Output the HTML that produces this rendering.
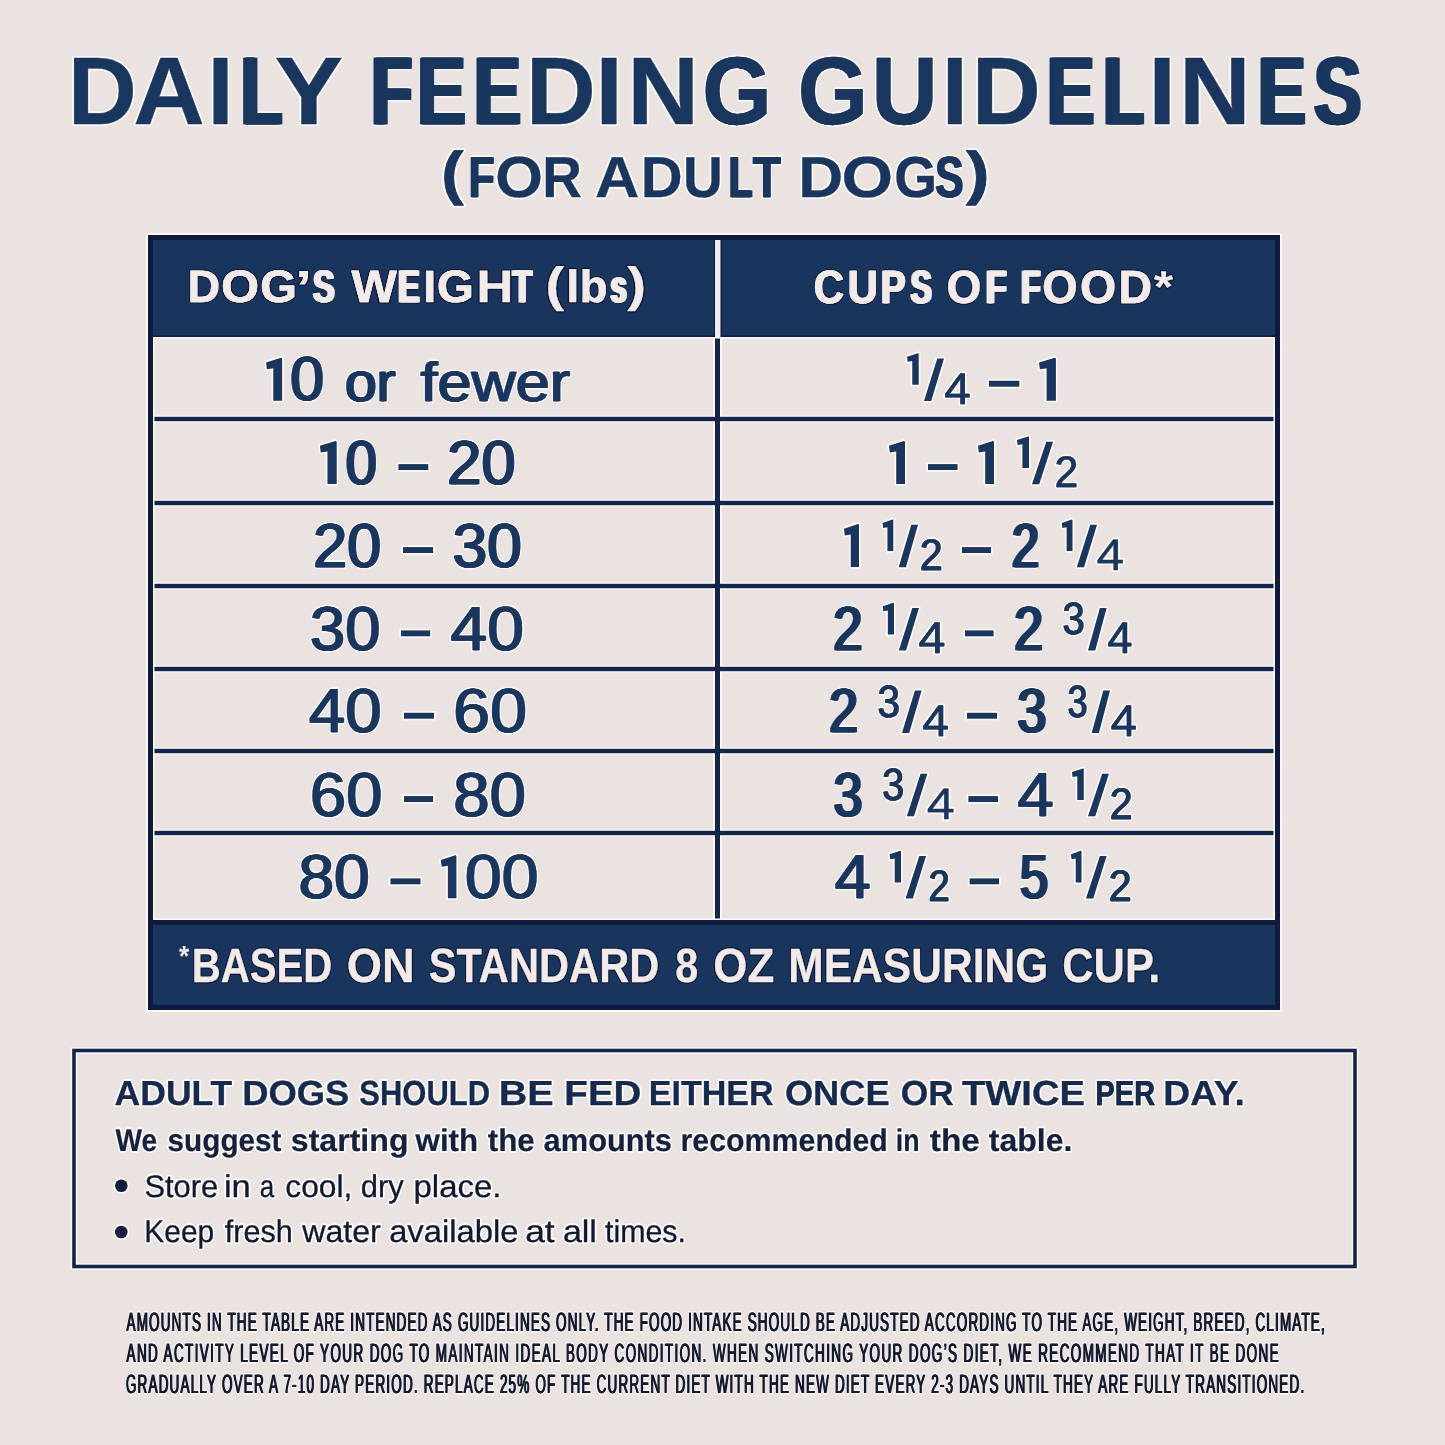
<!DOCTYPE html>
<html><head><meta charset="utf-8"><style>
html,body{margin:0;padding:0;background:#ebe3df;}
body{width:1445px;height:1445px;overflow:hidden;}
svg{display:block;font-family:"Liberation Sans",sans-serif;text-rendering:geometricPrecision;will-change:transform;}
</style></head><body>
<svg width="1445" height="1445" viewBox="0 0 1445 1445">
<rect width="1445" height="1445" fill="#ebe3df"/>
<rect x="146" y="233" width="1136" height="779" fill="#fbf9f8"/>
<rect x="148" y="235" width="1132" height="775" fill="#0f1a40"/>
<rect x="153" y="240" width="1122" height="765" fill="#ebe3df"/>
<rect x="153" y="240" width="1122" height="96" fill="#18355e"/>
<rect x="153" y="335.5" width="1122" height="1.5" fill="#0f1a40"/>
<rect x="714" y="240" width="8" height="97" fill="#0f1a40"/>
<rect x="715" y="240" width="5.5" height="97" fill="#efebea"/>
<rect x="153" y="415.5" width="1122" height="7" fill="#fbf9f8"/>
<rect x="153" y="499.5" width="1122" height="7" fill="#fbf9f8"/>
<rect x="153" y="582.5" width="1122" height="7" fill="#fbf9f8"/>
<rect x="153" y="665.5" width="1122" height="7" fill="#fbf9f8"/>
<rect x="153" y="747.5" width="1122" height="7" fill="#fbf9f8"/>
<rect x="153" y="829.5" width="1122" height="7" fill="#fbf9f8"/>
<rect x="713" y="337" width="9" height="584" fill="#fbf9f8"/>
<rect x="153" y="416.8" width="1122" height="4.4" fill="#14254c"/>
<rect x="153" y="500.8" width="1122" height="4.4" fill="#14254c"/>
<rect x="153" y="583.8" width="1122" height="4.4" fill="#14254c"/>
<rect x="153" y="666.8" width="1122" height="4.4" fill="#14254c"/>
<rect x="153" y="748.8" width="1122" height="4.4" fill="#14254c"/>
<rect x="153" y="830.8" width="1122" height="4.4" fill="#14254c"/>
<rect x="715" y="337" width="5" height="584" fill="#14254c"/>
<rect x="153" y="337" width="1122" height="1.5" fill="#fbf9f8"/>
<rect x="153" y="337" width="1.5" height="584" fill="#fbf9f8"/>
<rect x="1273.5" y="337" width="1.5" height="584" fill="#fbf9f8"/>
<rect x="153" y="918.5" width="1122" height="1.5" fill="#fbf9f8"/>
<rect x="153" y="920" width="1122" height="5" fill="#0f1a40"/>
<rect x="153" y="925" width="1122" height="80" fill="#18355e"/>
<rect x="74" y="1050.5" width="1281" height="216" fill="none" stroke="#fbf9f8" stroke-width="6.5"/>
<rect x="74" y="1050.5" width="1281" height="216" fill="none" stroke="#14254c" stroke-width="3.6"/>
<circle cx="121.3" cy="1185.8" r="8" fill="#fbf9f8"/>
<circle cx="121.3" cy="1232" r="8" fill="#fbf9f8"/>
<circle cx="121.3" cy="1185.8" r="6.3" fill="#13213f"/>
<circle cx="121.3" cy="1232" r="6.3" fill="#13213f"/>
<g opacity="1">
<text transform="matrix(0.9960 0 0 1 67.72 123.80)" font-size="96.08" font-weight="bold" fill="#fbf9f8" stroke="#fbf9f8" stroke-width="3.90" stroke-linejoin="round" vector-effect="non-scaling-stroke">D</text>
<text transform="matrix(1.0311 0 0 1 133.35 123.80)" font-size="96.08" font-weight="bold" fill="#fbf9f8" stroke="#fbf9f8" stroke-width="3.90" stroke-linejoin="round" vector-effect="non-scaling-stroke">A</text>
<text transform="matrix(0.9722 0 0 1 207.56 123.80)" font-size="96.08" font-weight="bold" fill="#fbf9f8" stroke="#fbf9f8" stroke-width="3.90" stroke-linejoin="round" vector-effect="non-scaling-stroke">I</text>
<text transform="matrix(0.7022 0 0 1 240.81 123.80)" font-size="96.08" font-weight="bold" fill="#fbf9f8" stroke="#fbf9f8" stroke-width="3.90" stroke-linejoin="round" vector-effect="non-scaling-stroke">L</text>
<text transform="matrix(1.0724 0 0 1 274.49 123.80)" font-size="96.08" font-weight="bold" fill="#fbf9f8" stroke="#fbf9f8" stroke-width="3.90" stroke-linejoin="round" vector-effect="non-scaling-stroke">Y</text>
<text transform="matrix(0.6951 0 0 1 371.31 123.80)" font-size="96.08" font-weight="bold" fill="#fbf9f8" stroke="#fbf9f8" stroke-width="3.90" stroke-linejoin="round" vector-effect="non-scaling-stroke">F</text>
<text transform="matrix(0.7723 0 0 1 416.77 123.80)" font-size="96.08" font-weight="bold" fill="#fbf9f8" stroke="#fbf9f8" stroke-width="3.90" stroke-linejoin="round" vector-effect="non-scaling-stroke">E</text>
<text transform="matrix(0.7353 0 0 1 473.97 123.80)" font-size="96.08" font-weight="bold" fill="#fbf9f8" stroke="#fbf9f8" stroke-width="3.90" stroke-linejoin="round" vector-effect="non-scaling-stroke">E</text>
<text transform="matrix(1.0110 0 0 1 525.63 123.80)" font-size="96.08" font-weight="bold" fill="#fbf9f8" stroke="#fbf9f8" stroke-width="3.90" stroke-linejoin="round" vector-effect="non-scaling-stroke">D</text>
<text transform="matrix(1.0388 0 0 1 595.26 123.80)" font-size="96.08" font-weight="bold" fill="#fbf9f8" stroke="#fbf9f8" stroke-width="3.90" stroke-linejoin="round" vector-effect="non-scaling-stroke">I</text>
<text transform="matrix(1.0361 0 0 1 627.28 123.80)" font-size="96.08" font-weight="bold" fill="#fbf9f8" stroke="#fbf9f8" stroke-width="3.90" stroke-linejoin="round" vector-effect="non-scaling-stroke">N</text>
<text transform="matrix(0.9227 0 0 1 702.40 123.80)" font-size="96.08" font-weight="bold" fill="#fbf9f8" stroke="#fbf9f8" stroke-width="3.90" stroke-linejoin="round" vector-effect="non-scaling-stroke">G</text>
<text transform="matrix(0.9404 0 0 1 797.72 123.80)" font-size="96.08" font-weight="bold" fill="#fbf9f8" stroke="#fbf9f8" stroke-width="3.90" stroke-linejoin="round" vector-effect="non-scaling-stroke">G</text>
<text transform="matrix(0.9550 0 0 1 871.43 123.80)" font-size="96.08" font-weight="bold" fill="#fbf9f8" stroke="#fbf9f8" stroke-width="3.90" stroke-linejoin="round" vector-effect="non-scaling-stroke">U</text>
<text transform="matrix(0.9789 0 0 1 941.82 123.80)" font-size="96.08" font-weight="bold" fill="#fbf9f8" stroke="#fbf9f8" stroke-width="3.90" stroke-linejoin="round" vector-effect="non-scaling-stroke">I</text>
<text transform="matrix(0.9960 0 0 1 971.82 123.80)" font-size="96.08" font-weight="bold" fill="#fbf9f8" stroke="#fbf9f8" stroke-width="3.90" stroke-linejoin="round" vector-effect="non-scaling-stroke">D</text>
<text transform="matrix(0.7476 0 0 1 1046.80 123.80)" font-size="96.08" font-weight="bold" fill="#fbf9f8" stroke="#fbf9f8" stroke-width="3.90" stroke-linejoin="round" vector-effect="non-scaling-stroke">E</text>
<text transform="matrix(0.6856 0 0 1 1103.44 123.80)" font-size="96.08" font-weight="bold" fill="#fbf9f8" stroke="#fbf9f8" stroke-width="3.90" stroke-linejoin="round" vector-effect="non-scaling-stroke">L</text>
<text transform="matrix(1.0388 0 0 1 1148.16 123.80)" font-size="96.08" font-weight="bold" fill="#fbf9f8" stroke="#fbf9f8" stroke-width="3.90" stroke-linejoin="round" vector-effect="non-scaling-stroke">I</text>
<text transform="matrix(1.0344 0 0 1 1178.99 123.80)" font-size="96.08" font-weight="bold" fill="#fbf9f8" stroke="#fbf9f8" stroke-width="3.90" stroke-linejoin="round" vector-effect="non-scaling-stroke">N</text>
<text transform="matrix(0.7501 0 0 1 1257.87 123.80)" font-size="96.08" font-weight="bold" fill="#fbf9f8" stroke="#fbf9f8" stroke-width="3.90" stroke-linejoin="round" vector-effect="non-scaling-stroke">E</text>
<text transform="matrix(0.7417 0 0 1 1313.82 123.80)" font-size="96.08" font-weight="bold" fill="#fbf9f8" stroke="#fbf9f8" stroke-width="3.90" stroke-linejoin="round" vector-effect="non-scaling-stroke">S</text>
<text transform="matrix(1.1368 0 0 1 441.16 193.20)" font-size="58.96" font-weight="bold" fill="#fbf9f8" stroke="#fbf9f8" stroke-width="4.30" stroke-linejoin="round" vector-effect="non-scaling-stroke">(</text>
<text transform="matrix(0.7314 0 0 1 468.80 196.55)" font-size="57.85" font-weight="bold" fill="#fbf9f8" stroke="#fbf9f8" stroke-width="3.80" stroke-linejoin="round" vector-effect="non-scaling-stroke">F</text>
<text transform="matrix(1.0609 0 0 1 495.33 196.55)" font-size="57.85" font-weight="bold" fill="#fbf9f8" stroke="#fbf9f8" stroke-width="3.80" stroke-linejoin="round" vector-effect="non-scaling-stroke">O</text>
<text transform="matrix(0.9501 0 0 1 542.21 196.55)" font-size="57.85" font-weight="bold" fill="#fbf9f8" stroke="#fbf9f8" stroke-width="3.80" stroke-linejoin="round" vector-effect="non-scaling-stroke">R</text>
<text transform="matrix(1.0614 0 0 1 594.89 196.55)" font-size="57.85" font-weight="bold" fill="#fbf9f8" stroke="#fbf9f8" stroke-width="3.80" stroke-linejoin="round" vector-effect="non-scaling-stroke">A</text>
<text transform="matrix(1.0015 0 0 1 640.63 196.55)" font-size="57.85" font-weight="bold" fill="#fbf9f8" stroke="#fbf9f8" stroke-width="3.80" stroke-linejoin="round" vector-effect="non-scaling-stroke">D</text>
<text transform="matrix(0.9545 0 0 1 683.06 196.55)" font-size="57.85" font-weight="bold" fill="#fbf9f8" stroke="#fbf9f8" stroke-width="3.80" stroke-linejoin="round" vector-effect="non-scaling-stroke">U</text>
<text transform="matrix(0.6640 0 0 1 728.95 196.55)" font-size="57.85" font-weight="bold" fill="#fbf9f8" stroke="#fbf9f8" stroke-width="3.80" stroke-linejoin="round" vector-effect="non-scaling-stroke">L</text>
<text transform="matrix(0.7976 0 0 1 752.65 196.55)" font-size="57.85" font-weight="bold" fill="#fbf9f8" stroke="#fbf9f8" stroke-width="3.80" stroke-linejoin="round" vector-effect="non-scaling-stroke">T</text>
<text transform="matrix(1.0762 0 0 1 798.36 196.55)" font-size="57.85" font-weight="bold" fill="#fbf9f8" stroke="#fbf9f8" stroke-width="3.80" stroke-linejoin="round" vector-effect="non-scaling-stroke">D</text>
<text transform="matrix(1.1475 0 0 1 841.58 196.55)" font-size="57.85" font-weight="bold" fill="#fbf9f8" stroke="#fbf9f8" stroke-width="3.80" stroke-linejoin="round" vector-effect="non-scaling-stroke">O</text>
<text transform="matrix(0.9532 0 0 1 894.23 196.55)" font-size="57.85" font-weight="bold" fill="#fbf9f8" stroke="#fbf9f8" stroke-width="3.80" stroke-linejoin="round" vector-effect="non-scaling-stroke">G</text>
<text transform="matrix(0.7340 0 0 1 935.27 196.55)" font-size="57.85" font-weight="bold" fill="#fbf9f8" stroke="#fbf9f8" stroke-width="3.80" stroke-linejoin="round" vector-effect="non-scaling-stroke">S</text>
<text transform="matrix(1.1997 0 0 1 966.00 193.20)" font-size="58.96" font-weight="bold" fill="#fbf9f8" stroke="#fbf9f8" stroke-width="4.30" stroke-linejoin="round" vector-effect="non-scaling-stroke">)</text>
<text transform="matrix(0.9879 0 0 1 187.70 302.35)" font-size="45.35" font-weight="bold" fill="#0e1838" stroke="#0e1838" stroke-width="2.80" stroke-linejoin="round" vector-effect="non-scaling-stroke">D</text>
<text transform="matrix(1.0823 0 0 1 221.03 302.35)" font-size="45.35" font-weight="bold" fill="#0e1838" stroke="#0e1838" stroke-width="2.80" stroke-linejoin="round" vector-effect="non-scaling-stroke">O</text>
<text transform="matrix(1.0463 0 0 1 260.21 302.35)" font-size="45.35" font-weight="bold" fill="#0e1838" stroke="#0e1838" stroke-width="2.80" stroke-linejoin="round" vector-effect="non-scaling-stroke">G</text>
<text transform="matrix(0.7202 0 0 1 312.94 302.35)" font-size="45.35" font-weight="bold" fill="#0e1838" stroke="#0e1838" stroke-width="2.80" stroke-linejoin="round" vector-effect="non-scaling-stroke">S</text>
<text transform="matrix(1.0655 0 0 1 351.32 302.35)" font-size="45.35" font-weight="bold" fill="#0e1838" stroke="#0e1838" stroke-width="2.80" stroke-linejoin="round" vector-effect="non-scaling-stroke">W</text>
<text transform="matrix(0.7113 0 0 1 398.06 302.35)" font-size="45.35" font-weight="bold" fill="#0e1838" stroke="#0e1838" stroke-width="2.80" stroke-linejoin="round" vector-effect="non-scaling-stroke">E</text>
<text transform="matrix(1.1013 0 0 1 422.63 302.35)" font-size="45.35" font-weight="bold" fill="#0e1838" stroke="#0e1838" stroke-width="2.80" stroke-linejoin="round" vector-effect="non-scaling-stroke">I</text>
<text transform="matrix(1.0505 0 0 1 436.99 302.35)" font-size="45.35" font-weight="bold" fill="#0e1838" stroke="#0e1838" stroke-width="2.80" stroke-linejoin="round" vector-effect="non-scaling-stroke">G</text>
<text transform="matrix(1.1253 0 0 1 476.56 302.35)" font-size="45.35" font-weight="bold" fill="#0e1838" stroke="#0e1838" stroke-width="2.80" stroke-linejoin="round" vector-effect="non-scaling-stroke">H</text>
<text transform="matrix(0.7056 0 0 1 512.50 302.35)" font-size="45.35" font-weight="bold" fill="#0e1838" stroke="#0e1838" stroke-width="2.80" stroke-linejoin="round" vector-effect="non-scaling-stroke">T</text>
<text transform="matrix(1.1013 0 0 1 565.63 302.35)" font-size="45.35" font-weight="bold" fill="#0e1838" stroke="#0e1838" stroke-width="2.80" stroke-linejoin="round" vector-effect="non-scaling-stroke">l</text>
<text transform="matrix(1.0001 0 0 1 579.72 302.35)" font-size="45.35" font-weight="bold" fill="#0e1838" stroke="#0e1838" stroke-width="2.80" stroke-linejoin="round" vector-effect="non-scaling-stroke">b</text>
<text transform="matrix(0.6116 0 0 1 610.97 302.35)" font-size="45.35" font-weight="bold" fill="#0e1838" stroke="#0e1838" stroke-width="2.80" stroke-linejoin="round" vector-effect="non-scaling-stroke">s</text>
<text transform="matrix(1.3200 0 0 1 294.84 303.75)" font-size="48.00" font-weight="bold" fill="#0e1838" stroke="#0e1838" stroke-width="2.50" stroke-linejoin="round" vector-effect="non-scaling-stroke">’</text>
<text transform="matrix(1.1681 0 0 1 545.51 300.77)" font-size="48.16" font-weight="bold" fill="#0e1838" stroke="#0e1838" stroke-width="2.80" stroke-linejoin="round" vector-effect="non-scaling-stroke">(</text>
<text transform="matrix(1.1751 0 0 1 627.25 300.77)" font-size="48.16" font-weight="bold" fill="#0e1838" stroke="#0e1838" stroke-width="2.80" stroke-linejoin="round" vector-effect="non-scaling-stroke">)</text>
<text transform="matrix(0.9022 0 0 1 813.80 303.45)" font-size="46.66" font-weight="bold" fill="#0e1838" stroke="#0e1838" stroke-width="2.80" stroke-linejoin="round" vector-effect="non-scaling-stroke">C</text>
<text transform="matrix(0.8964 0 0 1 847.67 303.45)" font-size="46.66" font-weight="bold" fill="#0e1838" stroke="#0e1838" stroke-width="2.80" stroke-linejoin="round" vector-effect="non-scaling-stroke">U</text>
<text transform="matrix(0.7929 0 0 1 880.70 303.45)" font-size="46.66" font-weight="bold" fill="#0e1838" stroke="#0e1838" stroke-width="2.80" stroke-linejoin="round" vector-effect="non-scaling-stroke">P</text>
<text transform="matrix(0.6816 0 0 1 910.62 303.45)" font-size="46.66" font-weight="bold" fill="#0e1838" stroke="#0e1838" stroke-width="2.80" stroke-linejoin="round" vector-effect="non-scaling-stroke">S</text>
<text transform="matrix(0.9529 0 0 1 946.54 303.45)" font-size="46.66" font-weight="bold" fill="#0e1838" stroke="#0e1838" stroke-width="2.80" stroke-linejoin="round" vector-effect="non-scaling-stroke">O</text>
<text transform="matrix(0.7395 0 0 1 985.75 303.45)" font-size="46.66" font-weight="bold" fill="#0e1838" stroke="#0e1838" stroke-width="2.80" stroke-linejoin="round" vector-effect="non-scaling-stroke">F</text>
<text transform="matrix(0.6918 0 0 1 1020.96 303.45)" font-size="46.66" font-weight="bold" fill="#0e1838" stroke="#0e1838" stroke-width="2.80" stroke-linejoin="round" vector-effect="non-scaling-stroke">F</text>
<text transform="matrix(0.9682 0 0 1 1042.36 303.45)" font-size="46.66" font-weight="bold" fill="#0e1838" stroke="#0e1838" stroke-width="2.80" stroke-linejoin="round" vector-effect="non-scaling-stroke">O</text>
<text transform="matrix(0.9987 0 0 1 1080.00 303.45)" font-size="46.66" font-weight="bold" fill="#0e1838" stroke="#0e1838" stroke-width="2.80" stroke-linejoin="round" vector-effect="non-scaling-stroke">O</text>
<text transform="matrix(0.9970 0 0 1 1118.56 303.45)" font-size="46.66" font-weight="bold" fill="#0e1838" stroke="#0e1838" stroke-width="2.80" stroke-linejoin="round" vector-effect="non-scaling-stroke">D</text>
<text transform="matrix(1.1264 0 0 1 1153.80 302.22)" font-size="44.54" font-weight="bold" fill="#0e1838" stroke="#0e1838" stroke-width="2.50" stroke-linejoin="round" vector-effect="non-scaling-stroke">*</text>
<text transform="matrix(0.9777 0 0 1 290.28 400.45)" font-size="62.07" font-weight="normal" fill="#fbf9f8" stroke="#fbf9f8" stroke-width="4.00" stroke-linejoin="round" vector-effect="non-scaling-stroke">0</text>
<text transform="matrix(1.0342 0 0 1 345.01 400.70)" font-size="55.00" font-weight="normal" fill="#fbf9f8" stroke="#fbf9f8" stroke-width="4.00" stroke-linejoin="round" vector-effect="non-scaling-stroke">or</text>
<text transform="matrix(1.1130 0 0 1 420.45 400.70)" font-size="55.00" font-weight="normal" fill="#fbf9f8" stroke="#fbf9f8" stroke-width="4.00" stroke-linejoin="round" vector-effect="non-scaling-stroke">fewer</text>
<text transform="matrix(0.9076 0 0 1 345.66 483.75)" font-size="62.07" font-weight="normal" fill="#fbf9f8" stroke="#fbf9f8" stroke-width="4.00" stroke-linejoin="round" vector-effect="non-scaling-stroke">0</text>
<text transform="matrix(0.9918 0 0 1 447.15 483.75)" font-size="62.07" font-weight="normal" fill="#fbf9f8" stroke="#fbf9f8" stroke-width="4.00" stroke-linejoin="round" vector-effect="non-scaling-stroke">20</text>
<text transform="matrix(0.9849 0 0 1 313.19 566.75)" font-size="62.07" font-weight="normal" fill="#fbf9f8" stroke="#fbf9f8" stroke-width="4.00" stroke-linejoin="round" vector-effect="non-scaling-stroke">20</text>
<text transform="matrix(1.0027 0 0 1 452.55 566.75)" font-size="62.07" font-weight="normal" fill="#fbf9f8" stroke="#fbf9f8" stroke-width="4.00" stroke-linejoin="round" vector-effect="non-scaling-stroke">30</text>
<text transform="matrix(1.0180 0 0 1 310.07 650.05)" font-size="62.07" font-weight="normal" fill="#fbf9f8" stroke="#fbf9f8" stroke-width="4.00" stroke-linejoin="round" vector-effect="non-scaling-stroke">30</text>
<text transform="matrix(1.0668 0 0 1 450.34 650.05)" font-size="62.07" font-weight="normal" fill="#fbf9f8" stroke="#fbf9f8" stroke-width="4.00" stroke-linejoin="round" vector-effect="non-scaling-stroke">40</text>
<text transform="matrix(1.0517 0 0 1 308.91 732.45)" font-size="62.07" font-weight="normal" fill="#fbf9f8" stroke="#fbf9f8" stroke-width="4.00" stroke-linejoin="round" vector-effect="non-scaling-stroke">40</text>
<text transform="matrix(1.0680 0 0 1 453.17 732.45)" font-size="62.07" font-weight="normal" fill="#fbf9f8" stroke="#fbf9f8" stroke-width="4.00" stroke-linejoin="round" vector-effect="non-scaling-stroke">60</text>
<text transform="matrix(1.0507 0 0 1 309.88 815.75)" font-size="62.07" font-weight="normal" fill="#fbf9f8" stroke="#fbf9f8" stroke-width="4.00" stroke-linejoin="round" vector-effect="non-scaling-stroke">60</text>
<text transform="matrix(1.0521 0 0 1 453.29 815.75)" font-size="62.07" font-weight="normal" fill="#fbf9f8" stroke="#fbf9f8" stroke-width="4.00" stroke-linejoin="round" vector-effect="non-scaling-stroke">80</text>
<text transform="matrix(1.0333 0 0 1 298.39 898.05)" font-size="62.07" font-weight="normal" fill="#fbf9f8" stroke="#fbf9f8" stroke-width="4.00" stroke-linejoin="round" vector-effect="non-scaling-stroke">80</text>
<text transform="matrix(1.0674 0 0 1 464.81 898.05)" font-size="62.07" font-weight="normal" fill="#fbf9f8" stroke="#fbf9f8" stroke-width="4.00" stroke-linejoin="round" vector-effect="non-scaling-stroke">00</text>
<text transform="matrix(1.0750 0 0 1 944.26 403.60)" font-size="44.19" font-weight="normal" fill="#fbf9f8" stroke="#fbf9f8" stroke-width="3.90" stroke-linejoin="round" vector-effect="non-scaling-stroke">4</text>
<text transform="matrix(0.9571 0 0 1 1054.60 486.90)" font-size="44.19" font-weight="normal" fill="#fbf9f8" stroke="#fbf9f8" stroke-width="3.90" stroke-linejoin="round" vector-effect="non-scaling-stroke">2</text>
<text transform="matrix(0.9319 0 0 1 919.72 569.90)" font-size="44.19" font-weight="normal" fill="#fbf9f8" stroke="#fbf9f8" stroke-width="3.90" stroke-linejoin="round" vector-effect="non-scaling-stroke">2</text>
<text transform="matrix(0.7892 0 0 1 1011.92 566.75)" font-size="62.07" font-weight="normal" fill="#fbf9f8" stroke="#fbf9f8" stroke-width="4.00" stroke-linejoin="round" vector-effect="non-scaling-stroke">2</text>
<text transform="matrix(1.1234 0 0 1 1096.42 569.90)" font-size="44.19" font-weight="normal" fill="#fbf9f8" stroke="#fbf9f8" stroke-width="3.90" stroke-linejoin="round" vector-effect="non-scaling-stroke">4</text>
<text transform="matrix(0.8520 0 0 1 833.13 650.05)" font-size="62.07" font-weight="normal" fill="#fbf9f8" stroke="#fbf9f8" stroke-width="4.00" stroke-linejoin="round" vector-effect="non-scaling-stroke">2</text>
<text transform="matrix(1.0973 0 0 1 918.49 653.20)" font-size="44.19" font-weight="normal" fill="#fbf9f8" stroke="#fbf9f8" stroke-width="3.90" stroke-linejoin="round" vector-effect="non-scaling-stroke">4</text>
<text transform="matrix(0.8340 0 0 1 1014.24 650.05)" font-size="62.07" font-weight="normal" fill="#fbf9f8" stroke="#fbf9f8" stroke-width="4.00" stroke-linejoin="round" vector-effect="non-scaling-stroke">2</text>
<text transform="matrix(0.8849 0 0 1 1062.46 634.20)" font-size="45.20" font-weight="normal" fill="#fbf9f8" stroke="#fbf9f8" stroke-width="3.90" stroke-linejoin="round" vector-effect="non-scaling-stroke">3</text>
<text transform="matrix(1.0138 0 0 1 1107.45 653.20)" font-size="44.19" font-weight="normal" fill="#fbf9f8" stroke="#fbf9f8" stroke-width="3.90" stroke-linejoin="round" vector-effect="non-scaling-stroke">4</text>
<text transform="matrix(0.8385 0 0 1 829.21 732.45)" font-size="62.07" font-weight="normal" fill="#fbf9f8" stroke="#fbf9f8" stroke-width="4.00" stroke-linejoin="round" vector-effect="non-scaling-stroke">2</text>
<text transform="matrix(0.8967 0 0 1 877.42 716.60)" font-size="45.20" font-weight="normal" fill="#fbf9f8" stroke="#fbf9f8" stroke-width="3.90" stroke-linejoin="round" vector-effect="non-scaling-stroke">3</text>
<text transform="matrix(1.0806 0 0 1 922.34 735.60)" font-size="44.19" font-weight="normal" fill="#fbf9f8" stroke="#fbf9f8" stroke-width="3.90" stroke-linejoin="round" vector-effect="non-scaling-stroke">4</text>
<text transform="matrix(0.8379 0 0 1 1017.53 732.45)" font-size="62.07" font-weight="normal" fill="#fbf9f8" stroke="#fbf9f8" stroke-width="4.00" stroke-linejoin="round" vector-effect="non-scaling-stroke">3</text>
<text transform="matrix(0.7905 0 0 1 1067.63 716.60)" font-size="45.20" font-weight="normal" fill="#fbf9f8" stroke="#fbf9f8" stroke-width="3.90" stroke-linejoin="round" vector-effect="non-scaling-stroke">3</text>
<text transform="matrix(1.0695 0 0 1 1110.58 735.60)" font-size="44.19" font-weight="normal" fill="#fbf9f8" stroke="#fbf9f8" stroke-width="3.90" stroke-linejoin="round" vector-effect="non-scaling-stroke">4</text>
<text transform="matrix(0.8294 0 0 1 833.78 815.75)" font-size="62.07" font-weight="normal" fill="#fbf9f8" stroke="#fbf9f8" stroke-width="4.00" stroke-linejoin="round" vector-effect="non-scaling-stroke">3</text>
<text transform="matrix(0.8731 0 0 1 882.31 799.90)" font-size="45.20" font-weight="normal" fill="#fbf9f8" stroke="#fbf9f8" stroke-width="3.90" stroke-linejoin="round" vector-effect="non-scaling-stroke">3</text>
<text transform="matrix(1.1366 0 0 1 926.72 818.90)" font-size="44.19" font-weight="normal" fill="#fbf9f8" stroke="#fbf9f8" stroke-width="3.90" stroke-linejoin="round" vector-effect="non-scaling-stroke">4</text>
<text transform="matrix(1.0511 0 0 1 1017.41 815.75)" font-size="62.07" font-weight="normal" fill="#fbf9f8" stroke="#fbf9f8" stroke-width="4.00" stroke-linejoin="round" vector-effect="non-scaling-stroke">4</text>
<text transform="matrix(0.9382 0 0 1 1109.69 818.90)" font-size="44.19" font-weight="normal" fill="#fbf9f8" stroke="#fbf9f8" stroke-width="3.90" stroke-linejoin="round" vector-effect="non-scaling-stroke">2</text>
<text transform="matrix(1.0392 0 0 1 834.76 898.05)" font-size="62.07" font-weight="normal" fill="#fbf9f8" stroke="#fbf9f8" stroke-width="4.00" stroke-linejoin="round" vector-effect="non-scaling-stroke">4</text>
<text transform="matrix(0.8563 0 0 1 928.66 901.20)" font-size="44.19" font-weight="normal" fill="#fbf9f8" stroke="#fbf9f8" stroke-width="3.90" stroke-linejoin="round" vector-effect="non-scaling-stroke">2</text>
<text transform="matrix(0.8251 0 0 1 1019.90 898.05)" font-size="62.07" font-weight="normal" fill="#fbf9f8" stroke="#fbf9f8" stroke-width="4.00" stroke-linejoin="round" vector-effect="non-scaling-stroke">5</text>
<text transform="matrix(0.9319 0 0 1 1108.72 901.20)" font-size="44.19" font-weight="normal" fill="#fbf9f8" stroke="#fbf9f8" stroke-width="3.90" stroke-linejoin="round" vector-effect="non-scaling-stroke">2</text>
<text transform="matrix(0.8348 0 0 1 191.64 982.35)" font-size="48.11" font-weight="bold" fill="#0e1838" stroke="#0e1838" stroke-width="2.80" stroke-linejoin="round" vector-effect="non-scaling-stroke">BASED</text>
<text transform="matrix(0.9423 0 0 1 346.83 982.35)" font-size="48.11" font-weight="bold" fill="#0e1838" stroke="#0e1838" stroke-width="2.80" stroke-linejoin="round" vector-effect="non-scaling-stroke">ON</text>
<text transform="matrix(0.8657 0 0 1 428.70 982.35)" font-size="48.11" font-weight="bold" fill="#0e1838" stroke="#0e1838" stroke-width="2.80" stroke-linejoin="round" vector-effect="non-scaling-stroke">STANDARD</text>
<text transform="matrix(0.8602 0 0 1 675.26 982.35)" font-size="48.11" font-weight="bold" fill="#0e1838" stroke="#0e1838" stroke-width="2.80" stroke-linejoin="round" vector-effect="non-scaling-stroke">8</text>
<text transform="matrix(0.9134 0 0 1 713.28 982.35)" font-size="48.11" font-weight="bold" fill="#0e1838" stroke="#0e1838" stroke-width="2.80" stroke-linejoin="round" vector-effect="non-scaling-stroke">OZ</text>
<text transform="matrix(0.8842 0 0 1 788.29 982.35)" font-size="48.11" font-weight="bold" fill="#0e1838" stroke="#0e1838" stroke-width="2.80" stroke-linejoin="round" vector-effect="non-scaling-stroke">MEASURING</text>
<text transform="matrix(0.9023 0 0 1 1062.19 982.35)" font-size="48.11" font-weight="bold" fill="#0e1838" stroke="#0e1838" stroke-width="2.80" stroke-linejoin="round" vector-effect="non-scaling-stroke">CUP.</text>
<text transform="matrix(1.0221 0 0 1 114.60 1104.55)" font-size="34.74" font-weight="bold" fill="#fbf9f8" stroke="#fbf9f8" stroke-width="3.80" stroke-linejoin="round" vector-effect="non-scaling-stroke">ADULT</text>
<text transform="matrix(1.0478 0 0 1 242.18 1104.55)" font-size="34.74" font-weight="bold" fill="#fbf9f8" stroke="#fbf9f8" stroke-width="3.80" stroke-linejoin="round" vector-effect="non-scaling-stroke">DOGS</text>
<text transform="matrix(0.8906 0 0 1 359.37 1104.55)" font-size="34.74" font-weight="bold" fill="#fbf9f8" stroke="#fbf9f8" stroke-width="3.80" stroke-linejoin="round" vector-effect="non-scaling-stroke">SHOULD</text>
<text transform="matrix(1.1385 0 0 1 498.68 1104.55)" font-size="34.74" font-weight="bold" fill="#fbf9f8" stroke="#fbf9f8" stroke-width="3.80" stroke-linejoin="round" vector-effect="non-scaling-stroke">BE</text>
<text transform="matrix(1.1095 0 0 1 564.34 1104.55)" font-size="34.74" font-weight="bold" fill="#fbf9f8" stroke="#fbf9f8" stroke-width="3.80" stroke-linejoin="round" vector-effect="non-scaling-stroke">FED</text>
<text transform="matrix(0.9799 0 0 1 648.72 1104.55)" font-size="34.74" font-weight="bold" fill="#fbf9f8" stroke="#fbf9f8" stroke-width="3.80" stroke-linejoin="round" vector-effect="non-scaling-stroke">EITHER</text>
<text transform="matrix(1.0436 0 0 1 784.92 1104.55)" font-size="34.74" font-weight="bold" fill="#fbf9f8" stroke="#fbf9f8" stroke-width="3.80" stroke-linejoin="round" vector-effect="non-scaling-stroke">ONCE</text>
<text transform="matrix(1.0172 0 0 1 900.75 1104.55)" font-size="34.74" font-weight="bold" fill="#fbf9f8" stroke="#fbf9f8" stroke-width="3.80" stroke-linejoin="round" vector-effect="non-scaling-stroke">OR</text>
<text transform="matrix(1.0988 0 0 1 961.95 1104.55)" font-size="34.74" font-weight="bold" fill="#fbf9f8" stroke="#fbf9f8" stroke-width="3.80" stroke-linejoin="round" vector-effect="non-scaling-stroke">TWICE</text>
<text transform="matrix(0.8379 0 0 1 1095.31 1104.55)" font-size="34.74" font-weight="bold" fill="#fbf9f8" stroke="#fbf9f8" stroke-width="3.80" stroke-linejoin="round" vector-effect="non-scaling-stroke">PER</text>
<text transform="matrix(1.0725 0 0 1 1163.32 1104.55)" font-size="34.74" font-weight="bold" fill="#fbf9f8" stroke="#fbf9f8" stroke-width="3.80" stroke-linejoin="round" vector-effect="non-scaling-stroke">DAY.</text>
<text transform="matrix(0.8946 0 0 1 115.40 1151.00)" font-size="31.40" font-weight="bold" fill="#fbf9f8" stroke="#fbf9f8" stroke-width="3.70" stroke-linejoin="round" vector-effect="non-scaling-stroke">We</text>
<text transform="matrix(0.9466 0 0 1 167.57 1151.00)" font-size="31.40" font-weight="bold" fill="#fbf9f8" stroke="#fbf9f8" stroke-width="3.70" stroke-linejoin="round" vector-effect="non-scaling-stroke">suggest</text>
<text transform="matrix(1.0225 0 0 1 290.80 1151.00)" font-size="31.40" font-weight="bold" fill="#fbf9f8" stroke="#fbf9f8" stroke-width="3.70" stroke-linejoin="round" vector-effect="non-scaling-stroke">starting</text>
<text transform="matrix(0.9964 0 0 1 415.59 1151.00)" font-size="31.40" font-weight="bold" fill="#fbf9f8" stroke="#fbf9f8" stroke-width="3.70" stroke-linejoin="round" vector-effect="non-scaling-stroke">with</text>
<text transform="matrix(0.9982 0 0 1 487.70 1151.00)" font-size="31.40" font-weight="bold" fill="#fbf9f8" stroke="#fbf9f8" stroke-width="3.70" stroke-linejoin="round" vector-effect="non-scaling-stroke">the</text>
<text transform="matrix(0.9815 0 0 1 543.62 1151.00)" font-size="31.40" font-weight="bold" fill="#fbf9f8" stroke="#fbf9f8" stroke-width="3.70" stroke-linejoin="round" vector-effect="non-scaling-stroke">amounts</text>
<text transform="matrix(0.9663 0 0 1 680.50 1151.00)" font-size="31.40" font-weight="bold" fill="#fbf9f8" stroke="#fbf9f8" stroke-width="3.70" stroke-linejoin="round" vector-effect="non-scaling-stroke">recommended</text>
<text transform="matrix(0.8520 0 0 1 895.73 1151.00)" font-size="31.40" font-weight="bold" fill="#fbf9f8" stroke="#fbf9f8" stroke-width="3.70" stroke-linejoin="round" vector-effect="non-scaling-stroke">in</text>
<text transform="matrix(1.0652 0 0 1 929.80 1151.00)" font-size="31.40" font-weight="bold" fill="#fbf9f8" stroke="#fbf9f8" stroke-width="3.70" stroke-linejoin="round" vector-effect="non-scaling-stroke">the</text>
<text transform="matrix(1.0187 0 0 1 988.80 1151.00)" font-size="31.40" font-weight="bold" fill="#fbf9f8" stroke="#fbf9f8" stroke-width="3.70" stroke-linejoin="round" vector-effect="non-scaling-stroke">table.</text>
<text transform="matrix(0.9868 0 0 1 144.39 1196.65)" font-size="31.25" font-weight="normal" fill="#fbf9f8" stroke="#fbf9f8" stroke-width="3.80" stroke-linejoin="round" vector-effect="non-scaling-stroke">Store</text>
<text transform="matrix(1.1058 0 0 1 223.89 1196.65)" font-size="31.25" font-weight="normal" fill="#fbf9f8" stroke="#fbf9f8" stroke-width="3.80" stroke-linejoin="round" vector-effect="non-scaling-stroke">in</text>
<text transform="matrix(0.8307 0 0 1 259.84 1196.65)" font-size="31.25" font-weight="normal" fill="#fbf9f8" stroke="#fbf9f8" stroke-width="3.80" stroke-linejoin="round" vector-effect="non-scaling-stroke">a</text>
<text transform="matrix(1.0159 0 0 1 285.26 1196.65)" font-size="31.25" font-weight="normal" fill="#fbf9f8" stroke="#fbf9f8" stroke-width="3.80" stroke-linejoin="round" vector-effect="non-scaling-stroke">cool,</text>
<text transform="matrix(0.9895 0 0 1 360.78 1196.65)" font-size="31.25" font-weight="normal" fill="#fbf9f8" stroke="#fbf9f8" stroke-width="3.80" stroke-linejoin="round" vector-effect="non-scaling-stroke">dry</text>
<text transform="matrix(1.0545 0 0 1 413.49 1196.65)" font-size="31.25" font-weight="normal" fill="#fbf9f8" stroke="#fbf9f8" stroke-width="3.80" stroke-linejoin="round" vector-effect="non-scaling-stroke">place.</text>
<text transform="matrix(0.9570 0 0 1 144.31 1242.35)" font-size="31.25" font-weight="normal" fill="#fbf9f8" stroke="#fbf9f8" stroke-width="3.80" stroke-linejoin="round" vector-effect="non-scaling-stroke">Keep</text>
<text transform="matrix(0.9789 0 0 1 224.75 1242.35)" font-size="31.25" font-weight="normal" fill="#fbf9f8" stroke="#fbf9f8" stroke-width="3.80" stroke-linejoin="round" vector-effect="non-scaling-stroke">fresh</text>
<text transform="matrix(1.0292 0 0 1 302.15 1242.35)" font-size="31.25" font-weight="normal" fill="#fbf9f8" stroke="#fbf9f8" stroke-width="3.80" stroke-linejoin="round" vector-effect="non-scaling-stroke">water</text>
<text transform="matrix(1.0486 0 0 1 389.13 1242.35)" font-size="31.25" font-weight="normal" fill="#fbf9f8" stroke="#fbf9f8" stroke-width="3.80" stroke-linejoin="round" vector-effect="non-scaling-stroke">available</text>
<text transform="matrix(1.1352 0 0 1 525.14 1242.35)" font-size="31.25" font-weight="normal" fill="#fbf9f8" stroke="#fbf9f8" stroke-width="3.80" stroke-linejoin="round" vector-effect="non-scaling-stroke">at</text>
<text transform="matrix(1.0875 0 0 1 562.89 1242.35)" font-size="31.25" font-weight="normal" fill="#fbf9f8" stroke="#fbf9f8" stroke-width="3.80" stroke-linejoin="round" vector-effect="non-scaling-stroke">all</text>
<text transform="matrix(0.9724 0 0 1 604.95 1242.35)" font-size="31.25" font-weight="normal" fill="#fbf9f8" stroke="#fbf9f8" stroke-width="3.80" stroke-linejoin="round" vector-effect="non-scaling-stroke">times.</text>
<text transform="matrix(0.5100 0 0 1 126.53 1331.15)" font-size="26.45" font-weight="normal" fill="#fbf9f8" stroke="#fbf9f8" stroke-width="3.60" stroke-linejoin="round" vector-effect="non-scaling-stroke" letter-spacing="2.275">AMOUNTS IN THE TABLE ARE INTENDED AS GUIDELINES ONLY. THE FOOD INTAKE SHOULD BE ADJUSTED ACCORDING TO THE AGE, WEIGHT, BREED, CLIMATE,</text>
<text transform="matrix(0.5100 0 0 1 126.53 1362.35)" font-size="26.45" font-weight="normal" fill="#fbf9f8" stroke="#fbf9f8" stroke-width="3.60" stroke-linejoin="round" vector-effect="non-scaling-stroke" letter-spacing="2.711">AND ACTIVITY LEVEL OF YOUR DOG TO MAINTAIN IDEAL BODY CONDITION. WHEN SWITCHING YOUR DOG’S DIET, WE RECOMMEND THAT IT BE DONE</text>
<text transform="matrix(0.5100 0 0 1 125.89 1392.95)" font-size="26.45" font-weight="normal" fill="#fbf9f8" stroke="#fbf9f8" stroke-width="3.60" stroke-linejoin="round" vector-effect="non-scaling-stroke" letter-spacing="2.325">GRADUALLY OVER A 7-10 DAY PERIOD. REPLACE 25% OF THE CURRENT DIET WITH THE NEW DIET EVERY 2-3 DAYS UNTIL THEY ARE FULLY TRANSITIONED.</text>
<polygon points="273.30,400.70 273.30,368.15 266.90,369.25 266.10,362.38 281.00,357.70 282.10,358.20 282.10,400.70" fill="#fbf9f8" stroke="#fbf9f8" stroke-width="3.5" stroke-linejoin="round"/>
<polygon points="327.46,484.00 327.46,451.45 320.74,452.55 319.90,445.68 335.54,441.00 336.70,441.50 336.70,484.00" fill="#fbf9f8" stroke="#fbf9f8" stroke-width="3.5" stroke-linejoin="round"/>
<rect x="398.40" y="464.10" width="29.90" height="5.9" fill="#fbf9f8" stroke="#fbf9f8" stroke-width="3.5"/>
<rect x="403.00" y="547.10" width="30.10" height="5.9" fill="#fbf9f8" stroke="#fbf9f8" stroke-width="3.5"/>
<rect x="401.10" y="630.40" width="29.10" height="5.9" fill="#fbf9f8" stroke="#fbf9f8" stroke-width="3.5"/>
<rect x="404.00" y="712.80" width="30.00" height="5.9" fill="#fbf9f8" stroke="#fbf9f8" stroke-width="3.5"/>
<rect x="404.00" y="796.10" width="29.10" height="5.9" fill="#fbf9f8" stroke="#fbf9f8" stroke-width="3.5"/>
<rect x="390.50" y="878.40" width="30.00" height="5.9" fill="#fbf9f8" stroke="#fbf9f8" stroke-width="3.5"/>
<polygon points="447.88,898.30 447.88,865.75 441.67,866.85 440.90,859.98 455.33,855.30 456.40,855.80 456.40,898.30" fill="#fbf9f8" stroke="#fbf9f8" stroke-width="3.5" stroke-linejoin="round"/>
<polygon points="912.26,384.80 912.26,360.88 907.59,361.69 907.00,356.64 917.90,353.20 918.70,353.57 918.70,384.80" fill="#fbf9f8" stroke="#fbf9f8" stroke-width="3.5" stroke-linejoin="round"/>
<polygon points="924.00,400.90 931.20,400.90 944.00,358.40 937.30,358.40" fill="#fbf9f8" stroke="#fbf9f8" stroke-width="3.5" stroke-linejoin="round"/>
<rect x="988.90" y="380.80" width="30.40" height="5.9" fill="#fbf9f8" stroke="#fbf9f8" stroke-width="3.5"/>
<polygon points="1046.61,400.70 1046.61,368.15 1039.85,369.25 1039.00,362.38 1054.74,357.70 1055.90,358.20 1055.90,400.70" fill="#fbf9f8" stroke="#fbf9f8" stroke-width="3.5" stroke-linejoin="round"/>
<polygon points="896.20,484.00 896.20,451.45 889.80,452.55 889.00,445.68 903.90,441.00 905.00,441.50 905.00,484.00" fill="#fbf9f8" stroke="#fbf9f8" stroke-width="3.5" stroke-linejoin="round"/>
<rect x="928.00" y="464.10" width="29.50" height="5.9" fill="#fbf9f8" stroke="#fbf9f8" stroke-width="3.5"/>
<polygon points="985.20,484.00 985.20,451.45 978.80,452.55 978.00,445.68 992.90,441.00 994.00,441.50 994.00,484.00" fill="#fbf9f8" stroke="#fbf9f8" stroke-width="3.5" stroke-linejoin="round"/>
<polygon points="1022.40,468.10 1022.40,444.18 1017.60,444.99 1017.00,439.94 1028.17,436.50 1029.00,436.87 1029.00,468.10" fill="#fbf9f8" stroke="#fbf9f8" stroke-width="3.5" stroke-linejoin="round"/>
<polygon points="1032.00,484.20 1039.20,484.20 1053.00,441.70 1046.30,441.70" fill="#fbf9f8" stroke="#fbf9f8" stroke-width="3.5" stroke-linejoin="round"/>
<polygon points="850.75,567.00 850.75,534.45 844.75,535.55 844.00,528.68 857.97,524.00 859.00,524.50 859.00,567.00" fill="#fbf9f8" stroke="#fbf9f8" stroke-width="3.5" stroke-linejoin="round"/>
<polygon points="887.41,551.10 887.41,527.18 883.13,527.99 882.60,522.94 892.56,519.50 893.30,519.87 893.30,551.10" fill="#fbf9f8" stroke="#fbf9f8" stroke-width="3.5" stroke-linejoin="round"/>
<polygon points="898.70,567.20 905.90,567.20 918.00,524.70 911.30,524.70" fill="#fbf9f8" stroke="#fbf9f8" stroke-width="3.5" stroke-linejoin="round"/>
<rect x="962.00" y="547.10" width="29.00" height="5.9" fill="#fbf9f8" stroke="#fbf9f8" stroke-width="3.5"/>
<polygon points="1066.62,551.10 1066.62,527.18 1062.34,527.99 1061.80,522.94 1071.76,519.50 1072.50,519.87 1072.50,551.10" fill="#fbf9f8" stroke="#fbf9f8" stroke-width="3.5" stroke-linejoin="round"/>
<polygon points="1076.80,567.20 1084.00,567.20 1097.00,524.70 1090.30,524.70" fill="#fbf9f8" stroke="#fbf9f8" stroke-width="3.5" stroke-linejoin="round"/>
<polygon points="887.84,634.40 887.84,610.48 883.36,611.29 882.80,606.24 893.23,602.80 894.00,603.17 894.00,634.40" fill="#fbf9f8" stroke="#fbf9f8" stroke-width="3.5" stroke-linejoin="round"/>
<polygon points="898.80,650.50 906.00,650.50 919.00,608.00 912.30,608.00" fill="#fbf9f8" stroke="#fbf9f8" stroke-width="3.5" stroke-linejoin="round"/>
<rect x="965.00" y="630.40" width="28.60" height="5.9" fill="#fbf9f8" stroke="#fbf9f8" stroke-width="3.5"/>
<polygon points="1088.00,650.50 1095.20,650.50 1106.60,608.00 1099.90,608.00" fill="#fbf9f8" stroke="#fbf9f8" stroke-width="3.5" stroke-linejoin="round"/>
<polygon points="902.00,732.90 909.20,732.90 921.60,690.40 914.90,690.40" fill="#fbf9f8" stroke="#fbf9f8" stroke-width="3.5" stroke-linejoin="round"/>
<rect x="967.00" y="712.80" width="30.00" height="5.9" fill="#fbf9f8" stroke="#fbf9f8" stroke-width="3.5"/>
<polygon points="1091.70,732.90 1098.90,732.90 1110.00,690.40 1103.30,690.40" fill="#fbf9f8" stroke="#fbf9f8" stroke-width="3.5" stroke-linejoin="round"/>
<polygon points="906.80,816.20 914.00,816.20 927.30,773.70 920.60,773.70" fill="#fbf9f8" stroke="#fbf9f8" stroke-width="3.5" stroke-linejoin="round"/>
<rect x="968.40" y="796.10" width="29.60" height="5.9" fill="#fbf9f8" stroke="#fbf9f8" stroke-width="3.5"/>
<polygon points="1077.31,800.10 1077.31,776.18 1072.59,776.99 1072.00,771.94 1082.99,768.50 1083.80,768.87 1083.80,800.10" fill="#fbf9f8" stroke="#fbf9f8" stroke-width="3.5" stroke-linejoin="round"/>
<polygon points="1088.00,816.20 1095.20,816.20 1108.90,773.70 1102.20,773.70" fill="#fbf9f8" stroke="#fbf9f8" stroke-width="3.5" stroke-linejoin="round"/>
<polygon points="894.73,882.40 894.73,858.48 890.17,859.29 889.60,854.24 900.22,850.80 901.00,851.17 901.00,882.40" fill="#fbf9f8" stroke="#fbf9f8" stroke-width="3.5" stroke-linejoin="round"/>
<polygon points="905.60,898.50 912.80,898.50 926.00,856.00 919.30,856.00" fill="#fbf9f8" stroke="#fbf9f8" stroke-width="3.5" stroke-linejoin="round"/>
<rect x="969.60" y="878.40" width="29.40" height="5.9" fill="#fbf9f8" stroke="#fbf9f8" stroke-width="3.5"/>
<polygon points="1075.72,882.40 1075.72,858.48 1071.53,859.29 1071.00,854.24 1080.78,850.80 1081.50,851.17 1081.50,882.40" fill="#fbf9f8" stroke="#fbf9f8" stroke-width="3.5" stroke-linejoin="round"/>
<polygon points="1086.00,898.50 1093.20,898.50 1106.60,856.00 1099.90,856.00" fill="#fbf9f8" stroke="#fbf9f8" stroke-width="3.5" stroke-linejoin="round"/>
</g>
<text transform="matrix(0.9960 0 0 1 67.72 123.80)" font-size="96.08" font-weight="bold" fill="#19365f" stroke="#19365f" stroke-width="0.40" stroke-linejoin="round" vector-effect="non-scaling-stroke">D</text>
<text transform="matrix(1.0311 0 0 1 133.35 123.80)" font-size="96.08" font-weight="bold" fill="#19365f" stroke="#19365f" stroke-width="0.40" stroke-linejoin="round" vector-effect="non-scaling-stroke">A</text>
<text transform="matrix(0.9722 0 0 1 207.56 123.80)" font-size="96.08" font-weight="bold" fill="#19365f" stroke="#19365f" stroke-width="0.40" stroke-linejoin="round" vector-effect="non-scaling-stroke">I</text>
<text transform="matrix(0.7022 0 0 1 238.68 123.80)" font-size="96.08" font-weight="bold" fill="#19365f" stroke="#19365f" stroke-width="0.40" stroke-linejoin="round" vector-effect="non-scaling-stroke">L</text>
<text transform="matrix(0.7022 0 0 1 239.39 123.80)" font-size="96.08" font-weight="bold" fill="#19365f" stroke="#19365f" stroke-width="0.40" stroke-linejoin="round" vector-effect="non-scaling-stroke">L</text>
<text transform="matrix(0.7022 0 0 1 240.10 123.80)" font-size="96.08" font-weight="bold" fill="#19365f" stroke="#19365f" stroke-width="0.40" stroke-linejoin="round" vector-effect="non-scaling-stroke">L</text>
<text transform="matrix(0.7022 0 0 1 240.81 123.80)" font-size="96.08" font-weight="bold" fill="#19365f" stroke="#19365f" stroke-width="0.40" stroke-linejoin="round" vector-effect="non-scaling-stroke">L</text>
<text transform="matrix(0.7022 0 0 1 241.52 123.80)" font-size="96.08" font-weight="bold" fill="#19365f" stroke="#19365f" stroke-width="0.40" stroke-linejoin="round" vector-effect="non-scaling-stroke">L</text>
<text transform="matrix(0.7022 0 0 1 242.23 123.80)" font-size="96.08" font-weight="bold" fill="#19365f" stroke="#19365f" stroke-width="0.40" stroke-linejoin="round" vector-effect="non-scaling-stroke">L</text>
<text transform="matrix(0.7022 0 0 1 242.94 123.80)" font-size="96.08" font-weight="bold" fill="#19365f" stroke="#19365f" stroke-width="0.40" stroke-linejoin="round" vector-effect="non-scaling-stroke">L</text>
<text transform="matrix(1.0724 0 0 1 274.49 123.80)" font-size="96.08" font-weight="bold" fill="#19365f" stroke="#19365f" stroke-width="0.40" stroke-linejoin="round" vector-effect="non-scaling-stroke">Y</text>
<text transform="matrix(0.6951 0 0 1 369.13 123.80)" font-size="96.08" font-weight="bold" fill="#19365f" stroke="#19365f" stroke-width="0.40" stroke-linejoin="round" vector-effect="non-scaling-stroke">F</text>
<text transform="matrix(0.6951 0 0 1 369.85 123.80)" font-size="96.08" font-weight="bold" fill="#19365f" stroke="#19365f" stroke-width="0.40" stroke-linejoin="round" vector-effect="non-scaling-stroke">F</text>
<text transform="matrix(0.6951 0 0 1 370.58 123.80)" font-size="96.08" font-weight="bold" fill="#19365f" stroke="#19365f" stroke-width="0.40" stroke-linejoin="round" vector-effect="non-scaling-stroke">F</text>
<text transform="matrix(0.6951 0 0 1 371.31 123.80)" font-size="96.08" font-weight="bold" fill="#19365f" stroke="#19365f" stroke-width="0.40" stroke-linejoin="round" vector-effect="non-scaling-stroke">F</text>
<text transform="matrix(0.6951 0 0 1 372.04 123.80)" font-size="96.08" font-weight="bold" fill="#19365f" stroke="#19365f" stroke-width="0.40" stroke-linejoin="round" vector-effect="non-scaling-stroke">F</text>
<text transform="matrix(0.6951 0 0 1 372.76 123.80)" font-size="96.08" font-weight="bold" fill="#19365f" stroke="#19365f" stroke-width="0.40" stroke-linejoin="round" vector-effect="non-scaling-stroke">F</text>
<text transform="matrix(0.6951 0 0 1 373.49 123.80)" font-size="96.08" font-weight="bold" fill="#19365f" stroke="#19365f" stroke-width="0.40" stroke-linejoin="round" vector-effect="non-scaling-stroke">F</text>
<text transform="matrix(0.7723 0 0 1 415.16 123.80)" font-size="96.08" font-weight="bold" fill="#19365f" stroke="#19365f" stroke-width="0.40" stroke-linejoin="round" vector-effect="non-scaling-stroke">E</text>
<text transform="matrix(0.7723 0 0 1 415.80 123.80)" font-size="96.08" font-weight="bold" fill="#19365f" stroke="#19365f" stroke-width="0.40" stroke-linejoin="round" vector-effect="non-scaling-stroke">E</text>
<text transform="matrix(0.7723 0 0 1 416.45 123.80)" font-size="96.08" font-weight="bold" fill="#19365f" stroke="#19365f" stroke-width="0.40" stroke-linejoin="round" vector-effect="non-scaling-stroke">E</text>
<text transform="matrix(0.7723 0 0 1 417.09 123.80)" font-size="96.08" font-weight="bold" fill="#19365f" stroke="#19365f" stroke-width="0.40" stroke-linejoin="round" vector-effect="non-scaling-stroke">E</text>
<text transform="matrix(0.7723 0 0 1 417.73 123.80)" font-size="96.08" font-weight="bold" fill="#19365f" stroke="#19365f" stroke-width="0.40" stroke-linejoin="round" vector-effect="non-scaling-stroke">E</text>
<text transform="matrix(0.7723 0 0 1 418.37 123.80)" font-size="96.08" font-weight="bold" fill="#19365f" stroke="#19365f" stroke-width="0.40" stroke-linejoin="round" vector-effect="non-scaling-stroke">E</text>
<text transform="matrix(0.7353 0 0 1 472.08 123.80)" font-size="96.08" font-weight="bold" fill="#19365f" stroke="#19365f" stroke-width="0.40" stroke-linejoin="round" vector-effect="non-scaling-stroke">E</text>
<text transform="matrix(0.7353 0 0 1 472.84 123.80)" font-size="96.08" font-weight="bold" fill="#19365f" stroke="#19365f" stroke-width="0.40" stroke-linejoin="round" vector-effect="non-scaling-stroke">E</text>
<text transform="matrix(0.7353 0 0 1 473.59 123.80)" font-size="96.08" font-weight="bold" fill="#19365f" stroke="#19365f" stroke-width="0.40" stroke-linejoin="round" vector-effect="non-scaling-stroke">E</text>
<text transform="matrix(0.7353 0 0 1 474.34 123.80)" font-size="96.08" font-weight="bold" fill="#19365f" stroke="#19365f" stroke-width="0.40" stroke-linejoin="round" vector-effect="non-scaling-stroke">E</text>
<text transform="matrix(0.7353 0 0 1 475.09 123.80)" font-size="96.08" font-weight="bold" fill="#19365f" stroke="#19365f" stroke-width="0.40" stroke-linejoin="round" vector-effect="non-scaling-stroke">E</text>
<text transform="matrix(0.7353 0 0 1 475.85 123.80)" font-size="96.08" font-weight="bold" fill="#19365f" stroke="#19365f" stroke-width="0.40" stroke-linejoin="round" vector-effect="non-scaling-stroke">E</text>
<text transform="matrix(1.0110 0 0 1 525.63 123.80)" font-size="96.08" font-weight="bold" fill="#19365f" stroke="#19365f" stroke-width="0.40" stroke-linejoin="round" vector-effect="non-scaling-stroke">D</text>
<text transform="matrix(1.0388 0 0 1 595.26 123.80)" font-size="96.08" font-weight="bold" fill="#19365f" stroke="#19365f" stroke-width="0.40" stroke-linejoin="round" vector-effect="non-scaling-stroke">I</text>
<text transform="matrix(1.0361 0 0 1 627.28 123.80)" font-size="96.08" font-weight="bold" fill="#19365f" stroke="#19365f" stroke-width="0.40" stroke-linejoin="round" vector-effect="non-scaling-stroke">N</text>
<text transform="matrix(0.9227 0 0 1 701.93 123.80)" font-size="96.08" font-weight="bold" fill="#19365f" stroke="#19365f" stroke-width="0.40" stroke-linejoin="round" vector-effect="non-scaling-stroke">G</text>
<text transform="matrix(0.9227 0 0 1 702.40 123.80)" font-size="96.08" font-weight="bold" fill="#19365f" stroke="#19365f" stroke-width="0.40" stroke-linejoin="round" vector-effect="non-scaling-stroke">G</text>
<text transform="matrix(0.9227 0 0 1 702.88 123.80)" font-size="96.08" font-weight="bold" fill="#19365f" stroke="#19365f" stroke-width="0.40" stroke-linejoin="round" vector-effect="non-scaling-stroke">G</text>
<text transform="matrix(0.9404 0 0 1 797.38 123.80)" font-size="96.08" font-weight="bold" fill="#19365f" stroke="#19365f" stroke-width="0.40" stroke-linejoin="round" vector-effect="non-scaling-stroke">G</text>
<text transform="matrix(0.9404 0 0 1 798.06 123.80)" font-size="96.08" font-weight="bold" fill="#19365f" stroke="#19365f" stroke-width="0.40" stroke-linejoin="round" vector-effect="non-scaling-stroke">G</text>
<text transform="matrix(0.9550 0 0 1 871.20 123.80)" font-size="96.08" font-weight="bold" fill="#19365f" stroke="#19365f" stroke-width="0.40" stroke-linejoin="round" vector-effect="non-scaling-stroke">U</text>
<text transform="matrix(0.9550 0 0 1 871.66 123.80)" font-size="96.08" font-weight="bold" fill="#19365f" stroke="#19365f" stroke-width="0.40" stroke-linejoin="round" vector-effect="non-scaling-stroke">U</text>
<text transform="matrix(0.9789 0 0 1 941.82 123.80)" font-size="96.08" font-weight="bold" fill="#19365f" stroke="#19365f" stroke-width="0.40" stroke-linejoin="round" vector-effect="non-scaling-stroke">I</text>
<text transform="matrix(0.9960 0 0 1 971.82 123.80)" font-size="96.08" font-weight="bold" fill="#19365f" stroke="#19365f" stroke-width="0.40" stroke-linejoin="round" vector-effect="non-scaling-stroke">D</text>
<text transform="matrix(0.7476 0 0 1 1045.01 123.80)" font-size="96.08" font-weight="bold" fill="#19365f" stroke="#19365f" stroke-width="0.40" stroke-linejoin="round" vector-effect="non-scaling-stroke">E</text>
<text transform="matrix(0.7476 0 0 1 1045.73 123.80)" font-size="96.08" font-weight="bold" fill="#19365f" stroke="#19365f" stroke-width="0.40" stroke-linejoin="round" vector-effect="non-scaling-stroke">E</text>
<text transform="matrix(0.7476 0 0 1 1046.44 123.80)" font-size="96.08" font-weight="bold" fill="#19365f" stroke="#19365f" stroke-width="0.40" stroke-linejoin="round" vector-effect="non-scaling-stroke">E</text>
<text transform="matrix(0.7476 0 0 1 1047.16 123.80)" font-size="96.08" font-weight="bold" fill="#19365f" stroke="#19365f" stroke-width="0.40" stroke-linejoin="round" vector-effect="non-scaling-stroke">E</text>
<text transform="matrix(0.7476 0 0 1 1047.87 123.80)" font-size="96.08" font-weight="bold" fill="#19365f" stroke="#19365f" stroke-width="0.40" stroke-linejoin="round" vector-effect="non-scaling-stroke">E</text>
<text transform="matrix(0.7476 0 0 1 1048.59 123.80)" font-size="96.08" font-weight="bold" fill="#19365f" stroke="#19365f" stroke-width="0.40" stroke-linejoin="round" vector-effect="non-scaling-stroke">E</text>
<text transform="matrix(0.6856 0 0 1 1101.18 123.80)" font-size="96.08" font-weight="bold" fill="#19365f" stroke="#19365f" stroke-width="0.40" stroke-linejoin="round" vector-effect="non-scaling-stroke">L</text>
<text transform="matrix(0.6856 0 0 1 1101.93 123.80)" font-size="96.08" font-weight="bold" fill="#19365f" stroke="#19365f" stroke-width="0.40" stroke-linejoin="round" vector-effect="non-scaling-stroke">L</text>
<text transform="matrix(0.6856 0 0 1 1102.69 123.80)" font-size="96.08" font-weight="bold" fill="#19365f" stroke="#19365f" stroke-width="0.40" stroke-linejoin="round" vector-effect="non-scaling-stroke">L</text>
<text transform="matrix(0.6856 0 0 1 1103.44 123.80)" font-size="96.08" font-weight="bold" fill="#19365f" stroke="#19365f" stroke-width="0.40" stroke-linejoin="round" vector-effect="non-scaling-stroke">L</text>
<text transform="matrix(0.6856 0 0 1 1104.19 123.80)" font-size="96.08" font-weight="bold" fill="#19365f" stroke="#19365f" stroke-width="0.40" stroke-linejoin="round" vector-effect="non-scaling-stroke">L</text>
<text transform="matrix(0.6856 0 0 1 1104.94 123.80)" font-size="96.08" font-weight="bold" fill="#19365f" stroke="#19365f" stroke-width="0.40" stroke-linejoin="round" vector-effect="non-scaling-stroke">L</text>
<text transform="matrix(0.6856 0 0 1 1105.69 123.80)" font-size="96.08" font-weight="bold" fill="#19365f" stroke="#19365f" stroke-width="0.40" stroke-linejoin="round" vector-effect="non-scaling-stroke">L</text>
<text transform="matrix(1.0388 0 0 1 1148.16 123.80)" font-size="96.08" font-weight="bold" fill="#19365f" stroke="#19365f" stroke-width="0.40" stroke-linejoin="round" vector-effect="non-scaling-stroke">I</text>
<text transform="matrix(1.0344 0 0 1 1178.99 123.80)" font-size="96.08" font-weight="bold" fill="#19365f" stroke="#19365f" stroke-width="0.40" stroke-linejoin="round" vector-effect="non-scaling-stroke">N</text>
<text transform="matrix(0.7501 0 0 1 1256.10 123.80)" font-size="96.08" font-weight="bold" fill="#19365f" stroke="#19365f" stroke-width="0.40" stroke-linejoin="round" vector-effect="non-scaling-stroke">E</text>
<text transform="matrix(0.7501 0 0 1 1256.80 123.80)" font-size="96.08" font-weight="bold" fill="#19365f" stroke="#19365f" stroke-width="0.40" stroke-linejoin="round" vector-effect="non-scaling-stroke">E</text>
<text transform="matrix(0.7501 0 0 1 1257.51 123.80)" font-size="96.08" font-weight="bold" fill="#19365f" stroke="#19365f" stroke-width="0.40" stroke-linejoin="round" vector-effect="non-scaling-stroke">E</text>
<text transform="matrix(0.7501 0 0 1 1258.22 123.80)" font-size="96.08" font-weight="bold" fill="#19365f" stroke="#19365f" stroke-width="0.40" stroke-linejoin="round" vector-effect="non-scaling-stroke">E</text>
<text transform="matrix(0.7501 0 0 1 1258.93 123.80)" font-size="96.08" font-weight="bold" fill="#19365f" stroke="#19365f" stroke-width="0.40" stroke-linejoin="round" vector-effect="non-scaling-stroke">E</text>
<text transform="matrix(0.7501 0 0 1 1259.64 123.80)" font-size="96.08" font-weight="bold" fill="#19365f" stroke="#19365f" stroke-width="0.40" stroke-linejoin="round" vector-effect="non-scaling-stroke">E</text>
<text transform="matrix(0.7417 0 0 1 1311.99 123.80)" font-size="96.08" font-weight="bold" fill="#19365f" stroke="#19365f" stroke-width="0.40" stroke-linejoin="round" vector-effect="non-scaling-stroke">S</text>
<text transform="matrix(0.7417 0 0 1 1312.72 123.80)" font-size="96.08" font-weight="bold" fill="#19365f" stroke="#19365f" stroke-width="0.40" stroke-linejoin="round" vector-effect="non-scaling-stroke">S</text>
<text transform="matrix(0.7417 0 0 1 1313.45 123.80)" font-size="96.08" font-weight="bold" fill="#19365f" stroke="#19365f" stroke-width="0.40" stroke-linejoin="round" vector-effect="non-scaling-stroke">S</text>
<text transform="matrix(0.7417 0 0 1 1314.19 123.80)" font-size="96.08" font-weight="bold" fill="#19365f" stroke="#19365f" stroke-width="0.40" stroke-linejoin="round" vector-effect="non-scaling-stroke">S</text>
<text transform="matrix(0.7417 0 0 1 1314.92 123.80)" font-size="96.08" font-weight="bold" fill="#19365f" stroke="#19365f" stroke-width="0.40" stroke-linejoin="round" vector-effect="non-scaling-stroke">S</text>
<text transform="matrix(0.7417 0 0 1 1315.65 123.80)" font-size="96.08" font-weight="bold" fill="#19365f" stroke="#19365f" stroke-width="0.40" stroke-linejoin="round" vector-effect="non-scaling-stroke">S</text>
<text transform="matrix(1.1368 0 0 1 441.16 193.20)" font-size="58.96" font-weight="bold" fill="#19365f" stroke="#19365f" stroke-width="0.80" stroke-linejoin="round" vector-effect="non-scaling-stroke">(</text>
<text transform="matrix(0.7314 0 0 1 468.01 196.55)" font-size="57.85" font-weight="bold" fill="#19365f" stroke="#19365f" stroke-width="0.30" stroke-linejoin="round" vector-effect="non-scaling-stroke">F</text>
<text transform="matrix(0.7314 0 0 1 468.80 196.55)" font-size="57.85" font-weight="bold" fill="#19365f" stroke="#19365f" stroke-width="0.30" stroke-linejoin="round" vector-effect="non-scaling-stroke">F</text>
<text transform="matrix(0.7314 0 0 1 469.59 196.55)" font-size="57.85" font-weight="bold" fill="#19365f" stroke="#19365f" stroke-width="0.30" stroke-linejoin="round" vector-effect="non-scaling-stroke">F</text>
<text transform="matrix(1.0609 0 0 1 495.33 196.55)" font-size="57.85" font-weight="bold" fill="#19365f" stroke="#19365f" stroke-width="0.30" stroke-linejoin="round" vector-effect="non-scaling-stroke">O</text>
<text transform="matrix(0.9501 0 0 1 542.21 196.55)" font-size="57.85" font-weight="bold" fill="#19365f" stroke="#19365f" stroke-width="0.30" stroke-linejoin="round" vector-effect="non-scaling-stroke">R</text>
<text transform="matrix(1.0614 0 0 1 594.89 196.55)" font-size="57.85" font-weight="bold" fill="#19365f" stroke="#19365f" stroke-width="0.30" stroke-linejoin="round" vector-effect="non-scaling-stroke">A</text>
<text transform="matrix(1.0015 0 0 1 640.63 196.55)" font-size="57.85" font-weight="bold" fill="#19365f" stroke="#19365f" stroke-width="0.30" stroke-linejoin="round" vector-effect="non-scaling-stroke">D</text>
<text transform="matrix(0.9545 0 0 1 683.06 196.55)" font-size="57.85" font-weight="bold" fill="#19365f" stroke="#19365f" stroke-width="0.30" stroke-linejoin="round" vector-effect="non-scaling-stroke">U</text>
<text transform="matrix(0.6640 0 0 1 727.85 196.55)" font-size="57.85" font-weight="bold" fill="#19365f" stroke="#19365f" stroke-width="0.30" stroke-linejoin="round" vector-effect="non-scaling-stroke">L</text>
<text transform="matrix(0.6640 0 0 1 728.58 196.55)" font-size="57.85" font-weight="bold" fill="#19365f" stroke="#19365f" stroke-width="0.30" stroke-linejoin="round" vector-effect="non-scaling-stroke">L</text>
<text transform="matrix(0.6640 0 0 1 729.31 196.55)" font-size="57.85" font-weight="bold" fill="#19365f" stroke="#19365f" stroke-width="0.30" stroke-linejoin="round" vector-effect="non-scaling-stroke">L</text>
<text transform="matrix(0.6640 0 0 1 730.05 196.55)" font-size="57.85" font-weight="bold" fill="#19365f" stroke="#19365f" stroke-width="0.30" stroke-linejoin="round" vector-effect="non-scaling-stroke">L</text>
<text transform="matrix(0.7976 0 0 1 752.15 196.55)" font-size="57.85" font-weight="bold" fill="#19365f" stroke="#19365f" stroke-width="0.30" stroke-linejoin="round" vector-effect="non-scaling-stroke">T</text>
<text transform="matrix(0.7976 0 0 1 752.65 196.55)" font-size="57.85" font-weight="bold" fill="#19365f" stroke="#19365f" stroke-width="0.30" stroke-linejoin="round" vector-effect="non-scaling-stroke">T</text>
<text transform="matrix(0.7976 0 0 1 753.14 196.55)" font-size="57.85" font-weight="bold" fill="#19365f" stroke="#19365f" stroke-width="0.30" stroke-linejoin="round" vector-effect="non-scaling-stroke">T</text>
<text transform="matrix(1.0762 0 0 1 798.36 196.55)" font-size="57.85" font-weight="bold" fill="#19365f" stroke="#19365f" stroke-width="0.30" stroke-linejoin="round" vector-effect="non-scaling-stroke">D</text>
<text transform="matrix(1.1475 0 0 1 841.58 196.55)" font-size="57.85" font-weight="bold" fill="#19365f" stroke="#19365f" stroke-width="0.30" stroke-linejoin="round" vector-effect="non-scaling-stroke">O</text>
<text transform="matrix(0.9532 0 0 1 894.23 196.55)" font-size="57.85" font-weight="bold" fill="#19365f" stroke="#19365f" stroke-width="0.30" stroke-linejoin="round" vector-effect="non-scaling-stroke">G</text>
<text transform="matrix(0.7340 0 0 1 934.49 196.55)" font-size="57.85" font-weight="bold" fill="#19365f" stroke="#19365f" stroke-width="0.30" stroke-linejoin="round" vector-effect="non-scaling-stroke">S</text>
<text transform="matrix(0.7340 0 0 1 935.27 196.55)" font-size="57.85" font-weight="bold" fill="#19365f" stroke="#19365f" stroke-width="0.30" stroke-linejoin="round" vector-effect="non-scaling-stroke">S</text>
<text transform="matrix(0.7340 0 0 1 936.05 196.55)" font-size="57.85" font-weight="bold" fill="#19365f" stroke="#19365f" stroke-width="0.30" stroke-linejoin="round" vector-effect="non-scaling-stroke">S</text>
<text transform="matrix(1.1997 0 0 1 966.00 193.20)" font-size="58.96" font-weight="bold" fill="#19365f" stroke="#19365f" stroke-width="0.80" stroke-linejoin="round" vector-effect="non-scaling-stroke">)</text>
<text transform="matrix(0.9879 0 0 1 187.35 302.35)" font-size="45.35" font-weight="bold" fill="#f2ebe7" stroke="#f2ebe7" stroke-width="0.30" stroke-linejoin="round" vector-effect="non-scaling-stroke">D</text>
<text transform="matrix(0.9879 0 0 1 188.05 302.35)" font-size="45.35" font-weight="bold" fill="#f2ebe7" stroke="#f2ebe7" stroke-width="0.30" stroke-linejoin="round" vector-effect="non-scaling-stroke">D</text>
<text transform="matrix(1.0823 0 0 1 221.02 302.35)" font-size="45.35" font-weight="bold" fill="#f2ebe7" stroke="#f2ebe7" stroke-width="0.30" stroke-linejoin="round" vector-effect="non-scaling-stroke">O</text>
<text transform="matrix(1.0823 0 0 1 221.05 302.35)" font-size="45.35" font-weight="bold" fill="#f2ebe7" stroke="#f2ebe7" stroke-width="0.30" stroke-linejoin="round" vector-effect="non-scaling-stroke">O</text>
<text transform="matrix(1.0463 0 0 1 260.07 302.35)" font-size="45.35" font-weight="bold" fill="#f2ebe7" stroke="#f2ebe7" stroke-width="0.30" stroke-linejoin="round" vector-effect="non-scaling-stroke">G</text>
<text transform="matrix(1.0463 0 0 1 260.35 302.35)" font-size="45.35" font-weight="bold" fill="#f2ebe7" stroke="#f2ebe7" stroke-width="0.30" stroke-linejoin="round" vector-effect="non-scaling-stroke">G</text>
<text transform="matrix(0.7202 0 0 1 311.64 302.35)" font-size="45.35" font-weight="bold" fill="#f2ebe7" stroke="#f2ebe7" stroke-width="0.30" stroke-linejoin="round" vector-effect="non-scaling-stroke">S</text>
<text transform="matrix(0.7202 0 0 1 312.29 302.35)" font-size="45.35" font-weight="bold" fill="#f2ebe7" stroke="#f2ebe7" stroke-width="0.30" stroke-linejoin="round" vector-effect="non-scaling-stroke">S</text>
<text transform="matrix(0.7202 0 0 1 312.94 302.35)" font-size="45.35" font-weight="bold" fill="#f2ebe7" stroke="#f2ebe7" stroke-width="0.30" stroke-linejoin="round" vector-effect="non-scaling-stroke">S</text>
<text transform="matrix(0.7202 0 0 1 313.59 302.35)" font-size="45.35" font-weight="bold" fill="#f2ebe7" stroke="#f2ebe7" stroke-width="0.30" stroke-linejoin="round" vector-effect="non-scaling-stroke">S</text>
<text transform="matrix(0.7202 0 0 1 314.24 302.35)" font-size="45.35" font-weight="bold" fill="#f2ebe7" stroke="#f2ebe7" stroke-width="0.30" stroke-linejoin="round" vector-effect="non-scaling-stroke">S</text>
<text transform="matrix(1.0655 0 0 1 351.25 302.35)" font-size="45.35" font-weight="bold" fill="#f2ebe7" stroke="#f2ebe7" stroke-width="0.30" stroke-linejoin="round" vector-effect="non-scaling-stroke">W</text>
<text transform="matrix(1.0655 0 0 1 351.40 302.35)" font-size="45.35" font-weight="bold" fill="#f2ebe7" stroke="#f2ebe7" stroke-width="0.30" stroke-linejoin="round" vector-effect="non-scaling-stroke">W</text>
<text transform="matrix(0.7113 0 0 1 396.73 302.35)" font-size="45.35" font-weight="bold" fill="#f2ebe7" stroke="#f2ebe7" stroke-width="0.30" stroke-linejoin="round" vector-effect="non-scaling-stroke">E</text>
<text transform="matrix(0.7113 0 0 1 397.40 302.35)" font-size="45.35" font-weight="bold" fill="#f2ebe7" stroke="#f2ebe7" stroke-width="0.30" stroke-linejoin="round" vector-effect="non-scaling-stroke">E</text>
<text transform="matrix(0.7113 0 0 1 398.06 302.35)" font-size="45.35" font-weight="bold" fill="#f2ebe7" stroke="#f2ebe7" stroke-width="0.30" stroke-linejoin="round" vector-effect="non-scaling-stroke">E</text>
<text transform="matrix(0.7113 0 0 1 398.73 302.35)" font-size="45.35" font-weight="bold" fill="#f2ebe7" stroke="#f2ebe7" stroke-width="0.30" stroke-linejoin="round" vector-effect="non-scaling-stroke">E</text>
<text transform="matrix(0.7113 0 0 1 399.39 302.35)" font-size="45.35" font-weight="bold" fill="#f2ebe7" stroke="#f2ebe7" stroke-width="0.30" stroke-linejoin="round" vector-effect="non-scaling-stroke">E</text>
<text transform="matrix(1.1013 0 0 1 422.63 302.35)" font-size="45.35" font-weight="bold" fill="#f2ebe7" stroke="#f2ebe7" stroke-width="0.30" stroke-linejoin="round" vector-effect="non-scaling-stroke">I</text>
<text transform="matrix(1.0505 0 0 1 436.86 302.35)" font-size="45.35" font-weight="bold" fill="#f2ebe7" stroke="#f2ebe7" stroke-width="0.30" stroke-linejoin="round" vector-effect="non-scaling-stroke">G</text>
<text transform="matrix(1.0505 0 0 1 437.12 302.35)" font-size="45.35" font-weight="bold" fill="#f2ebe7" stroke="#f2ebe7" stroke-width="0.30" stroke-linejoin="round" vector-effect="non-scaling-stroke">G</text>
<text transform="matrix(1.1253 0 0 1 476.56 302.35)" font-size="45.35" font-weight="bold" fill="#f2ebe7" stroke="#f2ebe7" stroke-width="0.30" stroke-linejoin="round" vector-effect="non-scaling-stroke">H</text>
<text transform="matrix(0.7056 0 0 1 511.15 302.35)" font-size="45.35" font-weight="bold" fill="#f2ebe7" stroke="#f2ebe7" stroke-width="0.30" stroke-linejoin="round" vector-effect="non-scaling-stroke">T</text>
<text transform="matrix(0.7056 0 0 1 511.83 302.35)" font-size="45.35" font-weight="bold" fill="#f2ebe7" stroke="#f2ebe7" stroke-width="0.30" stroke-linejoin="round" vector-effect="non-scaling-stroke">T</text>
<text transform="matrix(0.7056 0 0 1 512.50 302.35)" font-size="45.35" font-weight="bold" fill="#f2ebe7" stroke="#f2ebe7" stroke-width="0.30" stroke-linejoin="round" vector-effect="non-scaling-stroke">T</text>
<text transform="matrix(0.7056 0 0 1 513.18 302.35)" font-size="45.35" font-weight="bold" fill="#f2ebe7" stroke="#f2ebe7" stroke-width="0.30" stroke-linejoin="round" vector-effect="non-scaling-stroke">T</text>
<text transform="matrix(0.7056 0 0 1 513.85 302.35)" font-size="45.35" font-weight="bold" fill="#f2ebe7" stroke="#f2ebe7" stroke-width="0.30" stroke-linejoin="round" vector-effect="non-scaling-stroke">T</text>
<text transform="matrix(1.1013 0 0 1 565.63 302.35)" font-size="45.35" font-weight="bold" fill="#f2ebe7" stroke="#f2ebe7" stroke-width="0.30" stroke-linejoin="round" vector-effect="non-scaling-stroke">l</text>
<text transform="matrix(1.0001 0 0 1 579.42 302.35)" font-size="45.35" font-weight="bold" fill="#f2ebe7" stroke="#f2ebe7" stroke-width="0.30" stroke-linejoin="round" vector-effect="non-scaling-stroke">b</text>
<text transform="matrix(1.0001 0 0 1 580.03 302.35)" font-size="45.35" font-weight="bold" fill="#f2ebe7" stroke="#f2ebe7" stroke-width="0.30" stroke-linejoin="round" vector-effect="non-scaling-stroke">b</text>
<text transform="matrix(0.6116 0 0 1 609.28 302.35)" font-size="45.35" font-weight="bold" fill="#f2ebe7" stroke="#f2ebe7" stroke-width="0.30" stroke-linejoin="round" vector-effect="non-scaling-stroke">s</text>
<text transform="matrix(0.6116 0 0 1 609.96 302.35)" font-size="45.35" font-weight="bold" fill="#f2ebe7" stroke="#f2ebe7" stroke-width="0.30" stroke-linejoin="round" vector-effect="non-scaling-stroke">s</text>
<text transform="matrix(0.6116 0 0 1 610.63 302.35)" font-size="45.35" font-weight="bold" fill="#f2ebe7" stroke="#f2ebe7" stroke-width="0.30" stroke-linejoin="round" vector-effect="non-scaling-stroke">s</text>
<text transform="matrix(0.6116 0 0 1 611.30 302.35)" font-size="45.35" font-weight="bold" fill="#f2ebe7" stroke="#f2ebe7" stroke-width="0.30" stroke-linejoin="round" vector-effect="non-scaling-stroke">s</text>
<text transform="matrix(0.6116 0 0 1 611.98 302.35)" font-size="45.35" font-weight="bold" fill="#f2ebe7" stroke="#f2ebe7" stroke-width="0.30" stroke-linejoin="round" vector-effect="non-scaling-stroke">s</text>
<text transform="matrix(0.6116 0 0 1 612.65 302.35)" font-size="45.35" font-weight="bold" fill="#f2ebe7" stroke="#f2ebe7" stroke-width="0.30" stroke-linejoin="round" vector-effect="non-scaling-stroke">s</text>
<text transform="matrix(1.3200 0 0 1 294.84 303.75)" font-size="48.00" font-weight="bold" fill="#f2ebe7">’</text>
<text transform="matrix(1.1681 0 0 1 545.51 300.77)" font-size="48.16" font-weight="bold" fill="#f2ebe7" stroke="#f2ebe7" stroke-width="0.30" stroke-linejoin="round" vector-effect="non-scaling-stroke">(</text>
<text transform="matrix(1.1751 0 0 1 627.25 300.77)" font-size="48.16" font-weight="bold" fill="#f2ebe7" stroke="#f2ebe7" stroke-width="0.30" stroke-linejoin="round" vector-effect="non-scaling-stroke">)</text>
<text transform="matrix(0.9022 0 0 1 813.23 303.45)" font-size="46.66" font-weight="bold" fill="#f2ebe7" stroke="#f2ebe7" stroke-width="0.30" stroke-linejoin="round" vector-effect="non-scaling-stroke">C</text>
<text transform="matrix(0.9022 0 0 1 813.80 303.45)" font-size="46.66" font-weight="bold" fill="#f2ebe7" stroke="#f2ebe7" stroke-width="0.30" stroke-linejoin="round" vector-effect="non-scaling-stroke">C</text>
<text transform="matrix(0.9022 0 0 1 814.36 303.45)" font-size="46.66" font-weight="bold" fill="#f2ebe7" stroke="#f2ebe7" stroke-width="0.30" stroke-linejoin="round" vector-effect="non-scaling-stroke">C</text>
<text transform="matrix(0.8964 0 0 1 847.09 303.45)" font-size="46.66" font-weight="bold" fill="#f2ebe7" stroke="#f2ebe7" stroke-width="0.30" stroke-linejoin="round" vector-effect="non-scaling-stroke">U</text>
<text transform="matrix(0.8964 0 0 1 847.67 303.45)" font-size="46.66" font-weight="bold" fill="#f2ebe7" stroke="#f2ebe7" stroke-width="0.30" stroke-linejoin="round" vector-effect="non-scaling-stroke">U</text>
<text transform="matrix(0.8964 0 0 1 848.25 303.45)" font-size="46.66" font-weight="bold" fill="#f2ebe7" stroke="#f2ebe7" stroke-width="0.30" stroke-linejoin="round" vector-effect="non-scaling-stroke">U</text>
<text transform="matrix(0.7929 0 0 1 879.74 303.45)" font-size="46.66" font-weight="bold" fill="#f2ebe7" stroke="#f2ebe7" stroke-width="0.30" stroke-linejoin="round" vector-effect="non-scaling-stroke">P</text>
<text transform="matrix(0.7929 0 0 1 880.38 303.45)" font-size="46.66" font-weight="bold" fill="#f2ebe7" stroke="#f2ebe7" stroke-width="0.30" stroke-linejoin="round" vector-effect="non-scaling-stroke">P</text>
<text transform="matrix(0.7929 0 0 1 881.02 303.45)" font-size="46.66" font-weight="bold" fill="#f2ebe7" stroke="#f2ebe7" stroke-width="0.30" stroke-linejoin="round" vector-effect="non-scaling-stroke">P</text>
<text transform="matrix(0.7929 0 0 1 881.66 303.45)" font-size="46.66" font-weight="bold" fill="#f2ebe7" stroke="#f2ebe7" stroke-width="0.30" stroke-linejoin="round" vector-effect="non-scaling-stroke">P</text>
<text transform="matrix(0.6816 0 0 1 909.25 303.45)" font-size="46.66" font-weight="bold" fill="#f2ebe7" stroke="#f2ebe7" stroke-width="0.30" stroke-linejoin="round" vector-effect="non-scaling-stroke">S</text>
<text transform="matrix(0.6816 0 0 1 909.94 303.45)" font-size="46.66" font-weight="bold" fill="#f2ebe7" stroke="#f2ebe7" stroke-width="0.30" stroke-linejoin="round" vector-effect="non-scaling-stroke">S</text>
<text transform="matrix(0.6816 0 0 1 910.62 303.45)" font-size="46.66" font-weight="bold" fill="#f2ebe7" stroke="#f2ebe7" stroke-width="0.30" stroke-linejoin="round" vector-effect="non-scaling-stroke">S</text>
<text transform="matrix(0.6816 0 0 1 911.30 303.45)" font-size="46.66" font-weight="bold" fill="#f2ebe7" stroke="#f2ebe7" stroke-width="0.30" stroke-linejoin="round" vector-effect="non-scaling-stroke">S</text>
<text transform="matrix(0.6816 0 0 1 911.98 303.45)" font-size="46.66" font-weight="bold" fill="#f2ebe7" stroke="#f2ebe7" stroke-width="0.30" stroke-linejoin="round" vector-effect="non-scaling-stroke">S</text>
<text transform="matrix(0.9529 0 0 1 946.16 303.45)" font-size="46.66" font-weight="bold" fill="#f2ebe7" stroke="#f2ebe7" stroke-width="0.30" stroke-linejoin="round" vector-effect="non-scaling-stroke">O</text>
<text transform="matrix(0.9529 0 0 1 946.91 303.45)" font-size="46.66" font-weight="bold" fill="#f2ebe7" stroke="#f2ebe7" stroke-width="0.30" stroke-linejoin="round" vector-effect="non-scaling-stroke">O</text>
<text transform="matrix(0.7395 0 0 1 984.59 303.45)" font-size="46.66" font-weight="bold" fill="#f2ebe7" stroke="#f2ebe7" stroke-width="0.30" stroke-linejoin="round" vector-effect="non-scaling-stroke">F</text>
<text transform="matrix(0.7395 0 0 1 985.36 303.45)" font-size="46.66" font-weight="bold" fill="#f2ebe7" stroke="#f2ebe7" stroke-width="0.30" stroke-linejoin="round" vector-effect="non-scaling-stroke">F</text>
<text transform="matrix(0.7395 0 0 1 986.13 303.45)" font-size="46.66" font-weight="bold" fill="#f2ebe7" stroke="#f2ebe7" stroke-width="0.30" stroke-linejoin="round" vector-effect="non-scaling-stroke">F</text>
<text transform="matrix(0.7395 0 0 1 986.90 303.45)" font-size="46.66" font-weight="bold" fill="#f2ebe7" stroke="#f2ebe7" stroke-width="0.30" stroke-linejoin="round" vector-effect="non-scaling-stroke">F</text>
<text transform="matrix(0.6918 0 0 1 1019.63 303.45)" font-size="46.66" font-weight="bold" fill="#f2ebe7" stroke="#f2ebe7" stroke-width="0.30" stroke-linejoin="round" vector-effect="non-scaling-stroke">F</text>
<text transform="matrix(0.6918 0 0 1 1020.30 303.45)" font-size="46.66" font-weight="bold" fill="#f2ebe7" stroke="#f2ebe7" stroke-width="0.30" stroke-linejoin="round" vector-effect="non-scaling-stroke">F</text>
<text transform="matrix(0.6918 0 0 1 1020.96 303.45)" font-size="46.66" font-weight="bold" fill="#f2ebe7" stroke="#f2ebe7" stroke-width="0.30" stroke-linejoin="round" vector-effect="non-scaling-stroke">F</text>
<text transform="matrix(0.6918 0 0 1 1021.62 303.45)" font-size="46.66" font-weight="bold" fill="#f2ebe7" stroke="#f2ebe7" stroke-width="0.30" stroke-linejoin="round" vector-effect="non-scaling-stroke">F</text>
<text transform="matrix(0.6918 0 0 1 1022.29 303.45)" font-size="46.66" font-weight="bold" fill="#f2ebe7" stroke="#f2ebe7" stroke-width="0.30" stroke-linejoin="round" vector-effect="non-scaling-stroke">F</text>
<text transform="matrix(0.9682 0 0 1 1042.04 303.45)" font-size="46.66" font-weight="bold" fill="#f2ebe7" stroke="#f2ebe7" stroke-width="0.30" stroke-linejoin="round" vector-effect="non-scaling-stroke">O</text>
<text transform="matrix(0.9682 0 0 1 1042.68 303.45)" font-size="46.66" font-weight="bold" fill="#f2ebe7" stroke="#f2ebe7" stroke-width="0.30" stroke-linejoin="round" vector-effect="non-scaling-stroke">O</text>
<text transform="matrix(0.9987 0 0 1 1079.79 303.45)" font-size="46.66" font-weight="bold" fill="#f2ebe7" stroke="#f2ebe7" stroke-width="0.30" stroke-linejoin="round" vector-effect="non-scaling-stroke">O</text>
<text transform="matrix(0.9987 0 0 1 1080.21 303.45)" font-size="46.66" font-weight="bold" fill="#f2ebe7" stroke="#f2ebe7" stroke-width="0.30" stroke-linejoin="round" vector-effect="non-scaling-stroke">O</text>
<text transform="matrix(0.9970 0 0 1 1118.34 303.45)" font-size="46.66" font-weight="bold" fill="#f2ebe7" stroke="#f2ebe7" stroke-width="0.30" stroke-linejoin="round" vector-effect="non-scaling-stroke">D</text>
<text transform="matrix(0.9970 0 0 1 1118.77 303.45)" font-size="46.66" font-weight="bold" fill="#f2ebe7" stroke="#f2ebe7" stroke-width="0.30" stroke-linejoin="round" vector-effect="non-scaling-stroke">D</text>
<text transform="matrix(1.1264 0 0 1 1153.80 302.22)" font-size="44.54" font-weight="bold" fill="#f2ebe7">*</text>
<text transform="matrix(0.9777 0 0 1 289.35 400.45)" font-size="62.07" font-weight="normal" fill="#19365f" stroke="#19365f" stroke-width="0.50" stroke-linejoin="round" vector-effect="non-scaling-stroke">0</text>
<text transform="matrix(0.9777 0 0 1 289.97 400.45)" font-size="62.07" font-weight="normal" fill="#19365f" stroke="#19365f" stroke-width="0.50" stroke-linejoin="round" vector-effect="non-scaling-stroke">0</text>
<text transform="matrix(0.9777 0 0 1 290.59 400.45)" font-size="62.07" font-weight="normal" fill="#19365f" stroke="#19365f" stroke-width="0.50" stroke-linejoin="round" vector-effect="non-scaling-stroke">0</text>
<text transform="matrix(0.9777 0 0 1 291.22 400.45)" font-size="62.07" font-weight="normal" fill="#19365f" stroke="#19365f" stroke-width="0.50" stroke-linejoin="round" vector-effect="non-scaling-stroke">0</text>
<text transform="matrix(1.0342 0 0 1 344.07 400.70)" font-size="55.00" font-weight="normal" fill="#19365f" stroke="#19365f" stroke-width="0.50" stroke-linejoin="round" vector-effect="non-scaling-stroke">or</text>
<text transform="matrix(1.0342 0 0 1 344.70 400.70)" font-size="55.00" font-weight="normal" fill="#19365f" stroke="#19365f" stroke-width="0.50" stroke-linejoin="round" vector-effect="non-scaling-stroke">or</text>
<text transform="matrix(1.0342 0 0 1 345.32 400.70)" font-size="55.00" font-weight="normal" fill="#19365f" stroke="#19365f" stroke-width="0.50" stroke-linejoin="round" vector-effect="non-scaling-stroke">or</text>
<text transform="matrix(1.0342 0 0 1 345.95 400.70)" font-size="55.00" font-weight="normal" fill="#19365f" stroke="#19365f" stroke-width="0.50" stroke-linejoin="round" vector-effect="non-scaling-stroke">or</text>
<text transform="matrix(1.1130 0 0 1 419.75 400.70)" font-size="55.00" font-weight="normal" fill="#19365f" stroke="#19365f" stroke-width="0.50" stroke-linejoin="round" vector-effect="non-scaling-stroke">fewer</text>
<text transform="matrix(1.1130 0 0 1 420.45 400.70)" font-size="55.00" font-weight="normal" fill="#19365f" stroke="#19365f" stroke-width="0.50" stroke-linejoin="round" vector-effect="non-scaling-stroke">fewer</text>
<text transform="matrix(1.1130 0 0 1 421.15 400.70)" font-size="55.00" font-weight="normal" fill="#19365f" stroke="#19365f" stroke-width="0.50" stroke-linejoin="round" vector-effect="non-scaling-stroke">fewer</text>
<text transform="matrix(0.9076 0 0 1 344.49 483.75)" font-size="62.07" font-weight="normal" fill="#19365f" stroke="#19365f" stroke-width="0.50" stroke-linejoin="round" vector-effect="non-scaling-stroke">0</text>
<text transform="matrix(0.9076 0 0 1 345.27 483.75)" font-size="62.07" font-weight="normal" fill="#19365f" stroke="#19365f" stroke-width="0.50" stroke-linejoin="round" vector-effect="non-scaling-stroke">0</text>
<text transform="matrix(0.9076 0 0 1 346.05 483.75)" font-size="62.07" font-weight="normal" fill="#19365f" stroke="#19365f" stroke-width="0.50" stroke-linejoin="round" vector-effect="non-scaling-stroke">0</text>
<text transform="matrix(0.9076 0 0 1 346.83 483.75)" font-size="62.07" font-weight="normal" fill="#19365f" stroke="#19365f" stroke-width="0.50" stroke-linejoin="round" vector-effect="non-scaling-stroke">0</text>
<text transform="matrix(0.9918 0 0 1 446.26 483.75)" font-size="62.07" font-weight="normal" fill="#19365f" stroke="#19365f" stroke-width="0.50" stroke-linejoin="round" vector-effect="non-scaling-stroke">20</text>
<text transform="matrix(0.9918 0 0 1 446.85 483.75)" font-size="62.07" font-weight="normal" fill="#19365f" stroke="#19365f" stroke-width="0.50" stroke-linejoin="round" vector-effect="non-scaling-stroke">20</text>
<text transform="matrix(0.9918 0 0 1 447.44 483.75)" font-size="62.07" font-weight="normal" fill="#19365f" stroke="#19365f" stroke-width="0.50" stroke-linejoin="round" vector-effect="non-scaling-stroke">20</text>
<text transform="matrix(0.9918 0 0 1 448.03 483.75)" font-size="62.07" font-weight="normal" fill="#19365f" stroke="#19365f" stroke-width="0.50" stroke-linejoin="round" vector-effect="non-scaling-stroke">20</text>
<text transform="matrix(0.9849 0 0 1 312.28 566.75)" font-size="62.07" font-weight="normal" fill="#19365f" stroke="#19365f" stroke-width="0.50" stroke-linejoin="round" vector-effect="non-scaling-stroke">20</text>
<text transform="matrix(0.9849 0 0 1 312.89 566.75)" font-size="62.07" font-weight="normal" fill="#19365f" stroke="#19365f" stroke-width="0.50" stroke-linejoin="round" vector-effect="non-scaling-stroke">20</text>
<text transform="matrix(0.9849 0 0 1 313.49 566.75)" font-size="62.07" font-weight="normal" fill="#19365f" stroke="#19365f" stroke-width="0.50" stroke-linejoin="round" vector-effect="non-scaling-stroke">20</text>
<text transform="matrix(0.9849 0 0 1 314.10 566.75)" font-size="62.07" font-weight="normal" fill="#19365f" stroke="#19365f" stroke-width="0.50" stroke-linejoin="round" vector-effect="non-scaling-stroke">20</text>
<text transform="matrix(1.0027 0 0 1 451.71 566.75)" font-size="62.07" font-weight="normal" fill="#19365f" stroke="#19365f" stroke-width="0.50" stroke-linejoin="round" vector-effect="non-scaling-stroke">30</text>
<text transform="matrix(1.0027 0 0 1 452.27 566.75)" font-size="62.07" font-weight="normal" fill="#19365f" stroke="#19365f" stroke-width="0.50" stroke-linejoin="round" vector-effect="non-scaling-stroke">30</text>
<text transform="matrix(1.0027 0 0 1 452.83 566.75)" font-size="62.07" font-weight="normal" fill="#19365f" stroke="#19365f" stroke-width="0.50" stroke-linejoin="round" vector-effect="non-scaling-stroke">30</text>
<text transform="matrix(1.0027 0 0 1 453.40 566.75)" font-size="62.07" font-weight="normal" fill="#19365f" stroke="#19365f" stroke-width="0.50" stroke-linejoin="round" vector-effect="non-scaling-stroke">30</text>
<text transform="matrix(1.0180 0 0 1 309.28 650.05)" font-size="62.07" font-weight="normal" fill="#19365f" stroke="#19365f" stroke-width="0.50" stroke-linejoin="round" vector-effect="non-scaling-stroke">30</text>
<text transform="matrix(1.0180 0 0 1 310.07 650.05)" font-size="62.07" font-weight="normal" fill="#19365f" stroke="#19365f" stroke-width="0.50" stroke-linejoin="round" vector-effect="non-scaling-stroke">30</text>
<text transform="matrix(1.0180 0 0 1 310.86 650.05)" font-size="62.07" font-weight="normal" fill="#19365f" stroke="#19365f" stroke-width="0.50" stroke-linejoin="round" vector-effect="non-scaling-stroke">30</text>
<text transform="matrix(1.0668 0 0 1 449.72 650.05)" font-size="62.07" font-weight="normal" fill="#19365f" stroke="#19365f" stroke-width="0.50" stroke-linejoin="round" vector-effect="non-scaling-stroke">40</text>
<text transform="matrix(1.0668 0 0 1 450.34 650.05)" font-size="62.07" font-weight="normal" fill="#19365f" stroke="#19365f" stroke-width="0.50" stroke-linejoin="round" vector-effect="non-scaling-stroke">40</text>
<text transform="matrix(1.0668 0 0 1 450.97 650.05)" font-size="62.07" font-weight="normal" fill="#19365f" stroke="#19365f" stroke-width="0.50" stroke-linejoin="round" vector-effect="non-scaling-stroke">40</text>
<text transform="matrix(1.0517 0 0 1 308.23 732.45)" font-size="62.07" font-weight="normal" fill="#19365f" stroke="#19365f" stroke-width="0.50" stroke-linejoin="round" vector-effect="non-scaling-stroke">40</text>
<text transform="matrix(1.0517 0 0 1 308.91 732.45)" font-size="62.07" font-weight="normal" fill="#19365f" stroke="#19365f" stroke-width="0.50" stroke-linejoin="round" vector-effect="non-scaling-stroke">40</text>
<text transform="matrix(1.0517 0 0 1 309.59 732.45)" font-size="62.07" font-weight="normal" fill="#19365f" stroke="#19365f" stroke-width="0.50" stroke-linejoin="round" vector-effect="non-scaling-stroke">40</text>
<text transform="matrix(1.0680 0 0 1 452.54 732.45)" font-size="62.07" font-weight="normal" fill="#19365f" stroke="#19365f" stroke-width="0.50" stroke-linejoin="round" vector-effect="non-scaling-stroke">60</text>
<text transform="matrix(1.0680 0 0 1 453.17 732.45)" font-size="62.07" font-weight="normal" fill="#19365f" stroke="#19365f" stroke-width="0.50" stroke-linejoin="round" vector-effect="non-scaling-stroke">60</text>
<text transform="matrix(1.0680 0 0 1 453.79 732.45)" font-size="62.07" font-weight="normal" fill="#19365f" stroke="#19365f" stroke-width="0.50" stroke-linejoin="round" vector-effect="non-scaling-stroke">60</text>
<text transform="matrix(1.0507 0 0 1 309.19 815.75)" font-size="62.07" font-weight="normal" fill="#19365f" stroke="#19365f" stroke-width="0.50" stroke-linejoin="round" vector-effect="non-scaling-stroke">60</text>
<text transform="matrix(1.0507 0 0 1 309.88 815.75)" font-size="62.07" font-weight="normal" fill="#19365f" stroke="#19365f" stroke-width="0.50" stroke-linejoin="round" vector-effect="non-scaling-stroke">60</text>
<text transform="matrix(1.0507 0 0 1 310.56 815.75)" font-size="62.07" font-weight="normal" fill="#19365f" stroke="#19365f" stroke-width="0.50" stroke-linejoin="round" vector-effect="non-scaling-stroke">60</text>
<text transform="matrix(1.0521 0 0 1 452.61 815.75)" font-size="62.07" font-weight="normal" fill="#19365f" stroke="#19365f" stroke-width="0.50" stroke-linejoin="round" vector-effect="non-scaling-stroke">80</text>
<text transform="matrix(1.0521 0 0 1 453.29 815.75)" font-size="62.07" font-weight="normal" fill="#19365f" stroke="#19365f" stroke-width="0.50" stroke-linejoin="round" vector-effect="non-scaling-stroke">80</text>
<text transform="matrix(1.0521 0 0 1 453.97 815.75)" font-size="62.07" font-weight="normal" fill="#19365f" stroke="#19365f" stroke-width="0.50" stroke-linejoin="round" vector-effect="non-scaling-stroke">80</text>
<text transform="matrix(1.0333 0 0 1 297.65 898.05)" font-size="62.07" font-weight="normal" fill="#19365f" stroke="#19365f" stroke-width="0.50" stroke-linejoin="round" vector-effect="non-scaling-stroke">80</text>
<text transform="matrix(1.0333 0 0 1 298.39 898.05)" font-size="62.07" font-weight="normal" fill="#19365f" stroke="#19365f" stroke-width="0.50" stroke-linejoin="round" vector-effect="non-scaling-stroke">80</text>
<text transform="matrix(1.0333 0 0 1 299.13 898.05)" font-size="62.07" font-weight="normal" fill="#19365f" stroke="#19365f" stroke-width="0.50" stroke-linejoin="round" vector-effect="non-scaling-stroke">80</text>
<text transform="matrix(1.0674 0 0 1 464.18 898.05)" font-size="62.07" font-weight="normal" fill="#19365f" stroke="#19365f" stroke-width="0.50" stroke-linejoin="round" vector-effect="non-scaling-stroke">00</text>
<text transform="matrix(1.0674 0 0 1 464.81 898.05)" font-size="62.07" font-weight="normal" fill="#19365f" stroke="#19365f" stroke-width="0.50" stroke-linejoin="round" vector-effect="non-scaling-stroke">00</text>
<text transform="matrix(1.0674 0 0 1 465.43 898.05)" font-size="62.07" font-weight="normal" fill="#19365f" stroke="#19365f" stroke-width="0.50" stroke-linejoin="round" vector-effect="non-scaling-stroke">00</text>
<text transform="matrix(1.0750 0 0 1 944.16 403.60)" font-size="44.19" font-weight="normal" fill="#19365f" stroke="#19365f" stroke-width="0.40" stroke-linejoin="round" vector-effect="non-scaling-stroke">4</text>
<text transform="matrix(1.0750 0 0 1 944.36 403.60)" font-size="44.19" font-weight="normal" fill="#19365f" stroke="#19365f" stroke-width="0.40" stroke-linejoin="round" vector-effect="non-scaling-stroke">4</text>
<text transform="matrix(0.9571 0 0 1 1054.22 486.90)" font-size="44.19" font-weight="normal" fill="#19365f" stroke="#19365f" stroke-width="0.40" stroke-linejoin="round" vector-effect="non-scaling-stroke">2</text>
<text transform="matrix(0.9571 0 0 1 1054.99 486.90)" font-size="44.19" font-weight="normal" fill="#19365f" stroke="#19365f" stroke-width="0.40" stroke-linejoin="round" vector-effect="non-scaling-stroke">2</text>
<text transform="matrix(0.9319 0 0 1 919.27 569.90)" font-size="44.19" font-weight="normal" fill="#19365f" stroke="#19365f" stroke-width="0.40" stroke-linejoin="round" vector-effect="non-scaling-stroke">2</text>
<text transform="matrix(0.9319 0 0 1 919.72 569.90)" font-size="44.19" font-weight="normal" fill="#19365f" stroke="#19365f" stroke-width="0.40" stroke-linejoin="round" vector-effect="non-scaling-stroke">2</text>
<text transform="matrix(0.9319 0 0 1 920.16 569.90)" font-size="44.19" font-weight="normal" fill="#19365f" stroke="#19365f" stroke-width="0.40" stroke-linejoin="round" vector-effect="non-scaling-stroke">2</text>
<text transform="matrix(0.7892 0 0 1 1010.35 566.75)" font-size="62.07" font-weight="normal" fill="#19365f" stroke="#19365f" stroke-width="0.50" stroke-linejoin="round" vector-effect="non-scaling-stroke">2</text>
<text transform="matrix(0.7892 0 0 1 1011.14 566.75)" font-size="62.07" font-weight="normal" fill="#19365f" stroke="#19365f" stroke-width="0.50" stroke-linejoin="round" vector-effect="non-scaling-stroke">2</text>
<text transform="matrix(0.7892 0 0 1 1011.92 566.75)" font-size="62.07" font-weight="normal" fill="#19365f" stroke="#19365f" stroke-width="0.50" stroke-linejoin="round" vector-effect="non-scaling-stroke">2</text>
<text transform="matrix(0.7892 0 0 1 1012.71 566.75)" font-size="62.07" font-weight="normal" fill="#19365f" stroke="#19365f" stroke-width="0.50" stroke-linejoin="round" vector-effect="non-scaling-stroke">2</text>
<text transform="matrix(0.7892 0 0 1 1013.50 566.75)" font-size="62.07" font-weight="normal" fill="#19365f" stroke="#19365f" stroke-width="0.50" stroke-linejoin="round" vector-effect="non-scaling-stroke">2</text>
<text transform="matrix(1.1234 0 0 1 1096.42 569.90)" font-size="44.19" font-weight="normal" fill="#19365f" stroke="#19365f" stroke-width="0.40" stroke-linejoin="round" vector-effect="non-scaling-stroke">4</text>
<text transform="matrix(0.8520 0 0 1 831.77 650.05)" font-size="62.07" font-weight="normal" fill="#19365f" stroke="#19365f" stroke-width="0.50" stroke-linejoin="round" vector-effect="non-scaling-stroke">2</text>
<text transform="matrix(0.8520 0 0 1 832.45 650.05)" font-size="62.07" font-weight="normal" fill="#19365f" stroke="#19365f" stroke-width="0.50" stroke-linejoin="round" vector-effect="non-scaling-stroke">2</text>
<text transform="matrix(0.8520 0 0 1 833.13 650.05)" font-size="62.07" font-weight="normal" fill="#19365f" stroke="#19365f" stroke-width="0.50" stroke-linejoin="round" vector-effect="non-scaling-stroke">2</text>
<text transform="matrix(0.8520 0 0 1 833.81 650.05)" font-size="62.07" font-weight="normal" fill="#19365f" stroke="#19365f" stroke-width="0.50" stroke-linejoin="round" vector-effect="non-scaling-stroke">2</text>
<text transform="matrix(0.8520 0 0 1 834.49 650.05)" font-size="62.07" font-weight="normal" fill="#19365f" stroke="#19365f" stroke-width="0.50" stroke-linejoin="round" vector-effect="non-scaling-stroke">2</text>
<text transform="matrix(1.0973 0 0 1 918.44 653.20)" font-size="44.19" font-weight="normal" fill="#19365f" stroke="#19365f" stroke-width="0.40" stroke-linejoin="round" vector-effect="non-scaling-stroke">4</text>
<text transform="matrix(1.0973 0 0 1 918.54 653.20)" font-size="44.19" font-weight="normal" fill="#19365f" stroke="#19365f" stroke-width="0.40" stroke-linejoin="round" vector-effect="non-scaling-stroke">4</text>
<text transform="matrix(0.8340 0 0 1 1012.82 650.05)" font-size="62.07" font-weight="normal" fill="#19365f" stroke="#19365f" stroke-width="0.50" stroke-linejoin="round" vector-effect="non-scaling-stroke">2</text>
<text transform="matrix(0.8340 0 0 1 1013.53 650.05)" font-size="62.07" font-weight="normal" fill="#19365f" stroke="#19365f" stroke-width="0.50" stroke-linejoin="round" vector-effect="non-scaling-stroke">2</text>
<text transform="matrix(0.8340 0 0 1 1014.24 650.05)" font-size="62.07" font-weight="normal" fill="#19365f" stroke="#19365f" stroke-width="0.50" stroke-linejoin="round" vector-effect="non-scaling-stroke">2</text>
<text transform="matrix(0.8340 0 0 1 1014.95 650.05)" font-size="62.07" font-weight="normal" fill="#19365f" stroke="#19365f" stroke-width="0.50" stroke-linejoin="round" vector-effect="non-scaling-stroke">2</text>
<text transform="matrix(0.8340 0 0 1 1015.66 650.05)" font-size="62.07" font-weight="normal" fill="#19365f" stroke="#19365f" stroke-width="0.50" stroke-linejoin="round" vector-effect="non-scaling-stroke">2</text>
<text transform="matrix(0.8849 0 0 1 1061.95 634.20)" font-size="45.20" font-weight="normal" fill="#19365f" stroke="#19365f" stroke-width="0.40" stroke-linejoin="round" vector-effect="non-scaling-stroke">3</text>
<text transform="matrix(0.8849 0 0 1 1062.46 634.20)" font-size="45.20" font-weight="normal" fill="#19365f" stroke="#19365f" stroke-width="0.40" stroke-linejoin="round" vector-effect="non-scaling-stroke">3</text>
<text transform="matrix(0.8849 0 0 1 1062.97 634.20)" font-size="45.20" font-weight="normal" fill="#19365f" stroke="#19365f" stroke-width="0.40" stroke-linejoin="round" vector-effect="non-scaling-stroke">3</text>
<text transform="matrix(1.0138 0 0 1 1107.20 653.20)" font-size="44.19" font-weight="normal" fill="#19365f" stroke="#19365f" stroke-width="0.40" stroke-linejoin="round" vector-effect="non-scaling-stroke">4</text>
<text transform="matrix(1.0138 0 0 1 1107.70 653.20)" font-size="44.19" font-weight="normal" fill="#19365f" stroke="#19365f" stroke-width="0.40" stroke-linejoin="round" vector-effect="non-scaling-stroke">4</text>
<text transform="matrix(0.8385 0 0 1 827.81 732.45)" font-size="62.07" font-weight="normal" fill="#19365f" stroke="#19365f" stroke-width="0.50" stroke-linejoin="round" vector-effect="non-scaling-stroke">2</text>
<text transform="matrix(0.8385 0 0 1 828.51 732.45)" font-size="62.07" font-weight="normal" fill="#19365f" stroke="#19365f" stroke-width="0.50" stroke-linejoin="round" vector-effect="non-scaling-stroke">2</text>
<text transform="matrix(0.8385 0 0 1 829.21 732.45)" font-size="62.07" font-weight="normal" fill="#19365f" stroke="#19365f" stroke-width="0.50" stroke-linejoin="round" vector-effect="non-scaling-stroke">2</text>
<text transform="matrix(0.8385 0 0 1 829.92 732.45)" font-size="62.07" font-weight="normal" fill="#19365f" stroke="#19365f" stroke-width="0.50" stroke-linejoin="round" vector-effect="non-scaling-stroke">2</text>
<text transform="matrix(0.8385 0 0 1 830.62 732.45)" font-size="62.07" font-weight="normal" fill="#19365f" stroke="#19365f" stroke-width="0.50" stroke-linejoin="round" vector-effect="non-scaling-stroke">2</text>
<text transform="matrix(0.8967 0 0 1 876.93 716.60)" font-size="45.20" font-weight="normal" fill="#19365f" stroke="#19365f" stroke-width="0.40" stroke-linejoin="round" vector-effect="non-scaling-stroke">3</text>
<text transform="matrix(0.8967 0 0 1 877.42 716.60)" font-size="45.20" font-weight="normal" fill="#19365f" stroke="#19365f" stroke-width="0.40" stroke-linejoin="round" vector-effect="non-scaling-stroke">3</text>
<text transform="matrix(0.8967 0 0 1 877.90 716.60)" font-size="45.20" font-weight="normal" fill="#19365f" stroke="#19365f" stroke-width="0.40" stroke-linejoin="round" vector-effect="non-scaling-stroke">3</text>
<text transform="matrix(1.0806 0 0 1 922.25 735.60)" font-size="44.19" font-weight="normal" fill="#19365f" stroke="#19365f" stroke-width="0.40" stroke-linejoin="round" vector-effect="non-scaling-stroke">4</text>
<text transform="matrix(1.0806 0 0 1 922.43 735.60)" font-size="44.19" font-weight="normal" fill="#19365f" stroke="#19365f" stroke-width="0.40" stroke-linejoin="round" vector-effect="non-scaling-stroke">4</text>
<text transform="matrix(0.8379 0 0 1 1016.12 732.45)" font-size="62.07" font-weight="normal" fill="#19365f" stroke="#19365f" stroke-width="0.50" stroke-linejoin="round" vector-effect="non-scaling-stroke">3</text>
<text transform="matrix(0.8379 0 0 1 1016.83 732.45)" font-size="62.07" font-weight="normal" fill="#19365f" stroke="#19365f" stroke-width="0.50" stroke-linejoin="round" vector-effect="non-scaling-stroke">3</text>
<text transform="matrix(0.8379 0 0 1 1017.53 732.45)" font-size="62.07" font-weight="normal" fill="#19365f" stroke="#19365f" stroke-width="0.50" stroke-linejoin="round" vector-effect="non-scaling-stroke">3</text>
<text transform="matrix(0.8379 0 0 1 1018.23 732.45)" font-size="62.07" font-weight="normal" fill="#19365f" stroke="#19365f" stroke-width="0.50" stroke-linejoin="round" vector-effect="non-scaling-stroke">3</text>
<text transform="matrix(0.8379 0 0 1 1018.94 732.45)" font-size="62.07" font-weight="normal" fill="#19365f" stroke="#19365f" stroke-width="0.50" stroke-linejoin="round" vector-effect="non-scaling-stroke">3</text>
<text transform="matrix(0.7905 0 0 1 1066.88 716.60)" font-size="45.20" font-weight="normal" fill="#19365f" stroke="#19365f" stroke-width="0.40" stroke-linejoin="round" vector-effect="non-scaling-stroke">3</text>
<text transform="matrix(0.7905 0 0 1 1067.63 716.60)" font-size="45.20" font-weight="normal" fill="#19365f" stroke="#19365f" stroke-width="0.40" stroke-linejoin="round" vector-effect="non-scaling-stroke">3</text>
<text transform="matrix(0.7905 0 0 1 1068.37 716.60)" font-size="45.20" font-weight="normal" fill="#19365f" stroke="#19365f" stroke-width="0.40" stroke-linejoin="round" vector-effect="non-scaling-stroke">3</text>
<text transform="matrix(1.0695 0 0 1 1110.46 735.60)" font-size="44.19" font-weight="normal" fill="#19365f" stroke="#19365f" stroke-width="0.40" stroke-linejoin="round" vector-effect="non-scaling-stroke">4</text>
<text transform="matrix(1.0695 0 0 1 1110.69 735.60)" font-size="44.19" font-weight="normal" fill="#19365f" stroke="#19365f" stroke-width="0.40" stroke-linejoin="round" vector-effect="non-scaling-stroke">4</text>
<text transform="matrix(0.8294 0 0 1 832.34 815.75)" font-size="62.07" font-weight="normal" fill="#19365f" stroke="#19365f" stroke-width="0.50" stroke-linejoin="round" vector-effect="non-scaling-stroke">3</text>
<text transform="matrix(0.8294 0 0 1 833.06 815.75)" font-size="62.07" font-weight="normal" fill="#19365f" stroke="#19365f" stroke-width="0.50" stroke-linejoin="round" vector-effect="non-scaling-stroke">3</text>
<text transform="matrix(0.8294 0 0 1 833.78 815.75)" font-size="62.07" font-weight="normal" fill="#19365f" stroke="#19365f" stroke-width="0.50" stroke-linejoin="round" vector-effect="non-scaling-stroke">3</text>
<text transform="matrix(0.8294 0 0 1 834.49 815.75)" font-size="62.07" font-weight="normal" fill="#19365f" stroke="#19365f" stroke-width="0.50" stroke-linejoin="round" vector-effect="non-scaling-stroke">3</text>
<text transform="matrix(0.8294 0 0 1 835.21 815.75)" font-size="62.07" font-weight="normal" fill="#19365f" stroke="#19365f" stroke-width="0.50" stroke-linejoin="round" vector-effect="non-scaling-stroke">3</text>
<text transform="matrix(0.8731 0 0 1 881.77 799.90)" font-size="45.20" font-weight="normal" fill="#19365f" stroke="#19365f" stroke-width="0.40" stroke-linejoin="round" vector-effect="non-scaling-stroke">3</text>
<text transform="matrix(0.8731 0 0 1 882.31 799.90)" font-size="45.20" font-weight="normal" fill="#19365f" stroke="#19365f" stroke-width="0.40" stroke-linejoin="round" vector-effect="non-scaling-stroke">3</text>
<text transform="matrix(0.8731 0 0 1 882.85 799.90)" font-size="45.20" font-weight="normal" fill="#19365f" stroke="#19365f" stroke-width="0.40" stroke-linejoin="round" vector-effect="non-scaling-stroke">3</text>
<text transform="matrix(1.1366 0 0 1 926.72 818.90)" font-size="44.19" font-weight="normal" fill="#19365f" stroke="#19365f" stroke-width="0.40" stroke-linejoin="round" vector-effect="non-scaling-stroke">4</text>
<text transform="matrix(1.0511 0 0 1 1016.73 815.75)" font-size="62.07" font-weight="normal" fill="#19365f" stroke="#19365f" stroke-width="0.50" stroke-linejoin="round" vector-effect="non-scaling-stroke">4</text>
<text transform="matrix(1.0511 0 0 1 1017.41 815.75)" font-size="62.07" font-weight="normal" fill="#19365f" stroke="#19365f" stroke-width="0.50" stroke-linejoin="round" vector-effect="non-scaling-stroke">4</text>
<text transform="matrix(1.0511 0 0 1 1018.09 815.75)" font-size="62.07" font-weight="normal" fill="#19365f" stroke="#19365f" stroke-width="0.50" stroke-linejoin="round" vector-effect="non-scaling-stroke">4</text>
<text transform="matrix(0.9382 0 0 1 1109.26 818.90)" font-size="44.19" font-weight="normal" fill="#19365f" stroke="#19365f" stroke-width="0.40" stroke-linejoin="round" vector-effect="non-scaling-stroke">2</text>
<text transform="matrix(0.9382 0 0 1 1109.69 818.90)" font-size="44.19" font-weight="normal" fill="#19365f" stroke="#19365f" stroke-width="0.40" stroke-linejoin="round" vector-effect="non-scaling-stroke">2</text>
<text transform="matrix(0.9382 0 0 1 1110.12 818.90)" font-size="44.19" font-weight="normal" fill="#19365f" stroke="#19365f" stroke-width="0.40" stroke-linejoin="round" vector-effect="non-scaling-stroke">2</text>
<text transform="matrix(1.0392 0 0 1 834.04 898.05)" font-size="62.07" font-weight="normal" fill="#19365f" stroke="#19365f" stroke-width="0.50" stroke-linejoin="round" vector-effect="non-scaling-stroke">4</text>
<text transform="matrix(1.0392 0 0 1 834.76 898.05)" font-size="62.07" font-weight="normal" fill="#19365f" stroke="#19365f" stroke-width="0.50" stroke-linejoin="round" vector-effect="non-scaling-stroke">4</text>
<text transform="matrix(1.0392 0 0 1 835.49 898.05)" font-size="62.07" font-weight="normal" fill="#19365f" stroke="#19365f" stroke-width="0.50" stroke-linejoin="round" vector-effect="non-scaling-stroke">4</text>
<text transform="matrix(0.8563 0 0 1 928.03 901.20)" font-size="44.19" font-weight="normal" fill="#19365f" stroke="#19365f" stroke-width="0.40" stroke-linejoin="round" vector-effect="non-scaling-stroke">2</text>
<text transform="matrix(0.8563 0 0 1 928.66 901.20)" font-size="44.19" font-weight="normal" fill="#19365f" stroke="#19365f" stroke-width="0.40" stroke-linejoin="round" vector-effect="non-scaling-stroke">2</text>
<text transform="matrix(0.8563 0 0 1 929.29 901.20)" font-size="44.19" font-weight="normal" fill="#19365f" stroke="#19365f" stroke-width="0.40" stroke-linejoin="round" vector-effect="non-scaling-stroke">2</text>
<text transform="matrix(0.8251 0 0 1 1018.45 898.05)" font-size="62.07" font-weight="normal" fill="#19365f" stroke="#19365f" stroke-width="0.50" stroke-linejoin="round" vector-effect="non-scaling-stroke">5</text>
<text transform="matrix(0.8251 0 0 1 1019.17 898.05)" font-size="62.07" font-weight="normal" fill="#19365f" stroke="#19365f" stroke-width="0.50" stroke-linejoin="round" vector-effect="non-scaling-stroke">5</text>
<text transform="matrix(0.8251 0 0 1 1019.90 898.05)" font-size="62.07" font-weight="normal" fill="#19365f" stroke="#19365f" stroke-width="0.50" stroke-linejoin="round" vector-effect="non-scaling-stroke">5</text>
<text transform="matrix(0.8251 0 0 1 1020.62 898.05)" font-size="62.07" font-weight="normal" fill="#19365f" stroke="#19365f" stroke-width="0.50" stroke-linejoin="round" vector-effect="non-scaling-stroke">5</text>
<text transform="matrix(0.8251 0 0 1 1021.35 898.05)" font-size="62.07" font-weight="normal" fill="#19365f" stroke="#19365f" stroke-width="0.50" stroke-linejoin="round" vector-effect="non-scaling-stroke">5</text>
<text transform="matrix(0.9319 0 0 1 1108.27 901.20)" font-size="44.19" font-weight="normal" fill="#19365f" stroke="#19365f" stroke-width="0.40" stroke-linejoin="round" vector-effect="non-scaling-stroke">2</text>
<text transform="matrix(0.9319 0 0 1 1108.72 901.20)" font-size="44.19" font-weight="normal" fill="#19365f" stroke="#19365f" stroke-width="0.40" stroke-linejoin="round" vector-effect="non-scaling-stroke">2</text>
<text transform="matrix(0.9319 0 0 1 1109.16 901.20)" font-size="44.19" font-weight="normal" fill="#19365f" stroke="#19365f" stroke-width="0.40" stroke-linejoin="round" vector-effect="non-scaling-stroke">2</text>
<text transform="matrix(0.9035 0 0 1 179.10 965.82)" font-size="29.18" font-weight="bold" fill="#f2ebe7">*</text>
<text transform="matrix(0.8348 0 0 1 191.64 982.35)" font-size="48.11" font-weight="bold" fill="#f2ebe7" stroke="#f2ebe7" stroke-width="0.30" stroke-linejoin="round" vector-effect="non-scaling-stroke">BASED</text>
<text transform="matrix(0.9423 0 0 1 346.83 982.35)" font-size="48.11" font-weight="bold" fill="#f2ebe7" stroke="#f2ebe7" stroke-width="0.30" stroke-linejoin="round" vector-effect="non-scaling-stroke">ON</text>
<text transform="matrix(0.8657 0 0 1 428.70 982.35)" font-size="48.11" font-weight="bold" fill="#f2ebe7" stroke="#f2ebe7" stroke-width="0.30" stroke-linejoin="round" vector-effect="non-scaling-stroke">STANDARD</text>
<text transform="matrix(0.8602 0 0 1 675.26 982.35)" font-size="48.11" font-weight="bold" fill="#f2ebe7" stroke="#f2ebe7" stroke-width="0.30" stroke-linejoin="round" vector-effect="non-scaling-stroke">8</text>
<text transform="matrix(0.9134 0 0 1 713.28 982.35)" font-size="48.11" font-weight="bold" fill="#f2ebe7" stroke="#f2ebe7" stroke-width="0.30" stroke-linejoin="round" vector-effect="non-scaling-stroke">OZ</text>
<text transform="matrix(0.8842 0 0 1 788.29 982.35)" font-size="48.11" font-weight="bold" fill="#f2ebe7" stroke="#f2ebe7" stroke-width="0.30" stroke-linejoin="round" vector-effect="non-scaling-stroke">MEASURING</text>
<text transform="matrix(0.9023 0 0 1 1062.19 982.35)" font-size="48.11" font-weight="bold" fill="#f2ebe7" stroke="#f2ebe7" stroke-width="0.30" stroke-linejoin="round" vector-effect="non-scaling-stroke">CUP.</text>
<text transform="matrix(1.0221 0 0 1 114.60 1104.55)" font-size="34.74" font-weight="bold" fill="#152a4f" stroke="#152a4f" stroke-width="0.30" stroke-linejoin="round" vector-effect="non-scaling-stroke">ADULT</text>
<text transform="matrix(1.0478 0 0 1 242.18 1104.55)" font-size="34.74" font-weight="bold" fill="#152a4f" stroke="#152a4f" stroke-width="0.30" stroke-linejoin="round" vector-effect="non-scaling-stroke">DOGS</text>
<text transform="matrix(0.8906 0 0 1 359.37 1104.55)" font-size="34.74" font-weight="bold" fill="#152a4f" stroke="#152a4f" stroke-width="0.30" stroke-linejoin="round" vector-effect="non-scaling-stroke">SHOULD</text>
<text transform="matrix(1.1385 0 0 1 498.68 1104.55)" font-size="34.74" font-weight="bold" fill="#152a4f" stroke="#152a4f" stroke-width="0.30" stroke-linejoin="round" vector-effect="non-scaling-stroke">BE</text>
<text transform="matrix(1.1095 0 0 1 564.34 1104.55)" font-size="34.74" font-weight="bold" fill="#152a4f" stroke="#152a4f" stroke-width="0.30" stroke-linejoin="round" vector-effect="non-scaling-stroke">FED</text>
<text transform="matrix(0.9799 0 0 1 648.72 1104.55)" font-size="34.74" font-weight="bold" fill="#152a4f" stroke="#152a4f" stroke-width="0.30" stroke-linejoin="round" vector-effect="non-scaling-stroke">EITHER</text>
<text transform="matrix(1.0436 0 0 1 784.92 1104.55)" font-size="34.74" font-weight="bold" fill="#152a4f" stroke="#152a4f" stroke-width="0.30" stroke-linejoin="round" vector-effect="non-scaling-stroke">ONCE</text>
<text transform="matrix(1.0172 0 0 1 900.75 1104.55)" font-size="34.74" font-weight="bold" fill="#152a4f" stroke="#152a4f" stroke-width="0.30" stroke-linejoin="round" vector-effect="non-scaling-stroke">OR</text>
<text transform="matrix(1.0988 0 0 1 961.95 1104.55)" font-size="34.74" font-weight="bold" fill="#152a4f" stroke="#152a4f" stroke-width="0.30" stroke-linejoin="round" vector-effect="non-scaling-stroke">TWICE</text>
<text transform="matrix(0.8379 0 0 1 1095.23 1104.55)" font-size="34.74" font-weight="bold" fill="#152a4f" stroke="#152a4f" stroke-width="0.30" stroke-linejoin="round" vector-effect="non-scaling-stroke">PER</text>
<text transform="matrix(0.8379 0 0 1 1095.38 1104.55)" font-size="34.74" font-weight="bold" fill="#152a4f" stroke="#152a4f" stroke-width="0.30" stroke-linejoin="round" vector-effect="non-scaling-stroke">PER</text>
<text transform="matrix(1.0725 0 0 1 1163.32 1104.55)" font-size="34.74" font-weight="bold" fill="#152a4f" stroke="#152a4f" stroke-width="0.30" stroke-linejoin="round" vector-effect="non-scaling-stroke">DAY.</text>
<text transform="matrix(0.8946 0 0 1 115.40 1151.00)" font-size="31.40" font-weight="bold" fill="#13213f" stroke="#13213f" stroke-width="0.20" stroke-linejoin="round" vector-effect="non-scaling-stroke">We</text>
<text transform="matrix(0.9466 0 0 1 167.57 1151.00)" font-size="31.40" font-weight="bold" fill="#13213f" stroke="#13213f" stroke-width="0.20" stroke-linejoin="round" vector-effect="non-scaling-stroke">suggest</text>
<text transform="matrix(1.0225 0 0 1 290.80 1151.00)" font-size="31.40" font-weight="bold" fill="#13213f" stroke="#13213f" stroke-width="0.20" stroke-linejoin="round" vector-effect="non-scaling-stroke">starting</text>
<text transform="matrix(0.9964 0 0 1 415.59 1151.00)" font-size="31.40" font-weight="bold" fill="#13213f" stroke="#13213f" stroke-width="0.20" stroke-linejoin="round" vector-effect="non-scaling-stroke">with</text>
<text transform="matrix(0.9982 0 0 1 487.70 1151.00)" font-size="31.40" font-weight="bold" fill="#13213f" stroke="#13213f" stroke-width="0.20" stroke-linejoin="round" vector-effect="non-scaling-stroke">the</text>
<text transform="matrix(0.9815 0 0 1 543.62 1151.00)" font-size="31.40" font-weight="bold" fill="#13213f" stroke="#13213f" stroke-width="0.20" stroke-linejoin="round" vector-effect="non-scaling-stroke">amounts</text>
<text transform="matrix(0.9663 0 0 1 680.50 1151.00)" font-size="31.40" font-weight="bold" fill="#13213f" stroke="#13213f" stroke-width="0.20" stroke-linejoin="round" vector-effect="non-scaling-stroke">recommended</text>
<text transform="matrix(0.8520 0 0 1 895.73 1151.00)" font-size="31.40" font-weight="bold" fill="#13213f" stroke="#13213f" stroke-width="0.20" stroke-linejoin="round" vector-effect="non-scaling-stroke">in</text>
<text transform="matrix(1.0652 0 0 1 929.80 1151.00)" font-size="31.40" font-weight="bold" fill="#13213f" stroke="#13213f" stroke-width="0.20" stroke-linejoin="round" vector-effect="non-scaling-stroke">the</text>
<text transform="matrix(1.0187 0 0 1 988.80 1151.00)" font-size="31.40" font-weight="bold" fill="#13213f" stroke="#13213f" stroke-width="0.20" stroke-linejoin="round" vector-effect="non-scaling-stroke">table.</text>
<text transform="matrix(0.9868 0 0 1 144.39 1196.65)" font-size="31.25" font-weight="normal" fill="#0f1830" stroke="#0f1830" stroke-width="0.30" stroke-linejoin="round" vector-effect="non-scaling-stroke">Store</text>
<text transform="matrix(1.1058 0 0 1 223.89 1196.65)" font-size="31.25" font-weight="normal" fill="#0f1830" stroke="#0f1830" stroke-width="0.30" stroke-linejoin="round" vector-effect="non-scaling-stroke">in</text>
<text transform="matrix(0.8307 0 0 1 259.84 1196.65)" font-size="31.25" font-weight="normal" fill="#0f1830" stroke="#0f1830" stroke-width="0.30" stroke-linejoin="round" vector-effect="non-scaling-stroke">a</text>
<text transform="matrix(1.0159 0 0 1 285.26 1196.65)" font-size="31.25" font-weight="normal" fill="#0f1830" stroke="#0f1830" stroke-width="0.30" stroke-linejoin="round" vector-effect="non-scaling-stroke">cool,</text>
<text transform="matrix(0.9895 0 0 1 360.78 1196.65)" font-size="31.25" font-weight="normal" fill="#0f1830" stroke="#0f1830" stroke-width="0.30" stroke-linejoin="round" vector-effect="non-scaling-stroke">dry</text>
<text transform="matrix(1.0545 0 0 1 413.49 1196.65)" font-size="31.25" font-weight="normal" fill="#0f1830" stroke="#0f1830" stroke-width="0.30" stroke-linejoin="round" vector-effect="non-scaling-stroke">place.</text>
<text transform="matrix(0.9570 0 0 1 144.31 1242.35)" font-size="31.25" font-weight="normal" fill="#0f1830" stroke="#0f1830" stroke-width="0.30" stroke-linejoin="round" vector-effect="non-scaling-stroke">Keep</text>
<text transform="matrix(0.9789 0 0 1 224.75 1242.35)" font-size="31.25" font-weight="normal" fill="#0f1830" stroke="#0f1830" stroke-width="0.30" stroke-linejoin="round" vector-effect="non-scaling-stroke">fresh</text>
<text transform="matrix(1.0292 0 0 1 302.15 1242.35)" font-size="31.25" font-weight="normal" fill="#0f1830" stroke="#0f1830" stroke-width="0.30" stroke-linejoin="round" vector-effect="non-scaling-stroke">water</text>
<text transform="matrix(1.0486 0 0 1 389.13 1242.35)" font-size="31.25" font-weight="normal" fill="#0f1830" stroke="#0f1830" stroke-width="0.30" stroke-linejoin="round" vector-effect="non-scaling-stroke">available</text>
<text transform="matrix(1.1352 0 0 1 525.14 1242.35)" font-size="31.25" font-weight="normal" fill="#0f1830" stroke="#0f1830" stroke-width="0.30" stroke-linejoin="round" vector-effect="non-scaling-stroke">at</text>
<text transform="matrix(1.0875 0 0 1 562.89 1242.35)" font-size="31.25" font-weight="normal" fill="#0f1830" stroke="#0f1830" stroke-width="0.30" stroke-linejoin="round" vector-effect="non-scaling-stroke">all</text>
<text transform="matrix(0.9724 0 0 1 604.95 1242.35)" font-size="31.25" font-weight="normal" fill="#0f1830" stroke="#0f1830" stroke-width="0.30" stroke-linejoin="round" vector-effect="non-scaling-stroke">times.</text>
<text transform="matrix(0.5100 0 0 1 126.05 1331.15)" font-size="26.45" font-weight="normal" fill="#141a30" stroke="#141a30" stroke-width="0.10" stroke-linejoin="round" vector-effect="non-scaling-stroke" letter-spacing="2.275">AMOUNTS IN THE TABLE ARE INTENDED AS GUIDELINES ONLY. THE FOOD INTAKE SHOULD BE ADJUSTED ACCORDING TO THE AGE, WEIGHT, BREED, CLIMATE,</text>
<text transform="matrix(0.5100 0 0 1 126.53 1331.15)" font-size="26.45" font-weight="normal" fill="#141a30" stroke="#141a30" stroke-width="0.10" stroke-linejoin="round" vector-effect="non-scaling-stroke" letter-spacing="2.275">AMOUNTS IN THE TABLE ARE INTENDED AS GUIDELINES ONLY. THE FOOD INTAKE SHOULD BE ADJUSTED ACCORDING TO THE AGE, WEIGHT, BREED, CLIMATE,</text>
<text transform="matrix(0.5100 0 0 1 127.00 1331.15)" font-size="26.45" font-weight="normal" fill="#141a30" stroke="#141a30" stroke-width="0.10" stroke-linejoin="round" vector-effect="non-scaling-stroke" letter-spacing="2.275">AMOUNTS IN THE TABLE ARE INTENDED AS GUIDELINES ONLY. THE FOOD INTAKE SHOULD BE ADJUSTED ACCORDING TO THE AGE, WEIGHT, BREED, CLIMATE,</text>
<text transform="matrix(0.5100 0 0 1 126.05 1362.35)" font-size="26.45" font-weight="normal" fill="#141a30" stroke="#141a30" stroke-width="0.10" stroke-linejoin="round" vector-effect="non-scaling-stroke" letter-spacing="2.711">AND ACTIVITY LEVEL OF YOUR DOG TO MAINTAIN IDEAL BODY CONDITION. WHEN SWITCHING YOUR DOG’S DIET, WE RECOMMEND THAT IT BE DONE</text>
<text transform="matrix(0.5100 0 0 1 126.53 1362.35)" font-size="26.45" font-weight="normal" fill="#141a30" stroke="#141a30" stroke-width="0.10" stroke-linejoin="round" vector-effect="non-scaling-stroke" letter-spacing="2.711">AND ACTIVITY LEVEL OF YOUR DOG TO MAINTAIN IDEAL BODY CONDITION. WHEN SWITCHING YOUR DOG’S DIET, WE RECOMMEND THAT IT BE DONE</text>
<text transform="matrix(0.5100 0 0 1 127.00 1362.35)" font-size="26.45" font-weight="normal" fill="#141a30" stroke="#141a30" stroke-width="0.10" stroke-linejoin="round" vector-effect="non-scaling-stroke" letter-spacing="2.711">AND ACTIVITY LEVEL OF YOUR DOG TO MAINTAIN IDEAL BODY CONDITION. WHEN SWITCHING YOUR DOG’S DIET, WE RECOMMEND THAT IT BE DONE</text>
<text transform="matrix(0.5100 0 0 1 125.42 1392.95)" font-size="26.45" font-weight="normal" fill="#141a30" stroke="#141a30" stroke-width="0.10" stroke-linejoin="round" vector-effect="non-scaling-stroke" letter-spacing="2.325">GRADUALLY OVER A 7-10 DAY PERIOD. REPLACE 25% OF THE CURRENT DIET WITH THE NEW DIET EVERY 2-3 DAYS UNTIL THEY ARE FULLY TRANSITIONED.</text>
<text transform="matrix(0.5100 0 0 1 125.89 1392.95)" font-size="26.45" font-weight="normal" fill="#141a30" stroke="#141a30" stroke-width="0.10" stroke-linejoin="round" vector-effect="non-scaling-stroke" letter-spacing="2.325">GRADUALLY OVER A 7-10 DAY PERIOD. REPLACE 25% OF THE CURRENT DIET WITH THE NEW DIET EVERY 2-3 DAYS UNTIL THEY ARE FULLY TRANSITIONED.</text>
<text transform="matrix(0.5100 0 0 1 126.37 1392.95)" font-size="26.45" font-weight="normal" fill="#141a30" stroke="#141a30" stroke-width="0.10" stroke-linejoin="round" vector-effect="non-scaling-stroke" letter-spacing="2.325">GRADUALLY OVER A 7-10 DAY PERIOD. REPLACE 25% OF THE CURRENT DIET WITH THE NEW DIET EVERY 2-3 DAYS UNTIL THEY ARE FULLY TRANSITIONED.</text>
<polygon points="273.30,400.70 273.30,368.15 266.90,369.25 266.10,362.38 281.00,357.70 282.10,358.20 282.10,400.70" fill="#19365f"/>
<polygon points="327.46,484.00 327.46,451.45 320.74,452.55 319.90,445.68 335.54,441.00 336.70,441.50 336.70,484.00" fill="#19365f"/>
<rect x="398.40" y="464.10" width="29.90" height="5.9" fill="#19365f"/>
<rect x="403.00" y="547.10" width="30.10" height="5.9" fill="#19365f"/>
<rect x="401.10" y="630.40" width="29.10" height="5.9" fill="#19365f"/>
<rect x="404.00" y="712.80" width="30.00" height="5.9" fill="#19365f"/>
<rect x="404.00" y="796.10" width="29.10" height="5.9" fill="#19365f"/>
<rect x="390.50" y="878.40" width="30.00" height="5.9" fill="#19365f"/>
<polygon points="447.88,898.30 447.88,865.75 441.67,866.85 440.90,859.98 455.33,855.30 456.40,855.80 456.40,898.30" fill="#19365f"/>
<polygon points="912.26,384.80 912.26,360.88 907.59,361.69 907.00,356.64 917.90,353.20 918.70,353.57 918.70,384.80" fill="#19365f"/>
<polygon points="924.00,400.90 931.20,400.90 944.00,358.40 937.30,358.40" fill="#19365f"/>
<rect x="988.90" y="380.80" width="30.40" height="5.9" fill="#19365f"/>
<polygon points="1046.61,400.70 1046.61,368.15 1039.85,369.25 1039.00,362.38 1054.74,357.70 1055.90,358.20 1055.90,400.70" fill="#19365f"/>
<polygon points="896.20,484.00 896.20,451.45 889.80,452.55 889.00,445.68 903.90,441.00 905.00,441.50 905.00,484.00" fill="#19365f"/>
<rect x="928.00" y="464.10" width="29.50" height="5.9" fill="#19365f"/>
<polygon points="985.20,484.00 985.20,451.45 978.80,452.55 978.00,445.68 992.90,441.00 994.00,441.50 994.00,484.00" fill="#19365f"/>
<polygon points="1022.40,468.10 1022.40,444.18 1017.60,444.99 1017.00,439.94 1028.17,436.50 1029.00,436.87 1029.00,468.10" fill="#19365f"/>
<polygon points="1032.00,484.20 1039.20,484.20 1053.00,441.70 1046.30,441.70" fill="#19365f"/>
<polygon points="850.75,567.00 850.75,534.45 844.75,535.55 844.00,528.68 857.97,524.00 859.00,524.50 859.00,567.00" fill="#19365f"/>
<polygon points="887.41,551.10 887.41,527.18 883.13,527.99 882.60,522.94 892.56,519.50 893.30,519.87 893.30,551.10" fill="#19365f"/>
<polygon points="898.70,567.20 905.90,567.20 918.00,524.70 911.30,524.70" fill="#19365f"/>
<rect x="962.00" y="547.10" width="29.00" height="5.9" fill="#19365f"/>
<polygon points="1066.62,551.10 1066.62,527.18 1062.34,527.99 1061.80,522.94 1071.76,519.50 1072.50,519.87 1072.50,551.10" fill="#19365f"/>
<polygon points="1076.80,567.20 1084.00,567.20 1097.00,524.70 1090.30,524.70" fill="#19365f"/>
<polygon points="887.84,634.40 887.84,610.48 883.36,611.29 882.80,606.24 893.23,602.80 894.00,603.17 894.00,634.40" fill="#19365f"/>
<polygon points="898.80,650.50 906.00,650.50 919.00,608.00 912.30,608.00" fill="#19365f"/>
<rect x="965.00" y="630.40" width="28.60" height="5.9" fill="#19365f"/>
<polygon points="1088.00,650.50 1095.20,650.50 1106.60,608.00 1099.90,608.00" fill="#19365f"/>
<polygon points="902.00,732.90 909.20,732.90 921.60,690.40 914.90,690.40" fill="#19365f"/>
<rect x="967.00" y="712.80" width="30.00" height="5.9" fill="#19365f"/>
<polygon points="1091.70,732.90 1098.90,732.90 1110.00,690.40 1103.30,690.40" fill="#19365f"/>
<polygon points="906.80,816.20 914.00,816.20 927.30,773.70 920.60,773.70" fill="#19365f"/>
<rect x="968.40" y="796.10" width="29.60" height="5.9" fill="#19365f"/>
<polygon points="1077.31,800.10 1077.31,776.18 1072.59,776.99 1072.00,771.94 1082.99,768.50 1083.80,768.87 1083.80,800.10" fill="#19365f"/>
<polygon points="1088.00,816.20 1095.20,816.20 1108.90,773.70 1102.20,773.70" fill="#19365f"/>
<polygon points="894.73,882.40 894.73,858.48 890.17,859.29 889.60,854.24 900.22,850.80 901.00,851.17 901.00,882.40" fill="#19365f"/>
<polygon points="905.60,898.50 912.80,898.50 926.00,856.00 919.30,856.00" fill="#19365f"/>
<rect x="969.60" y="878.40" width="29.40" height="5.9" fill="#19365f"/>
<polygon points="1075.72,882.40 1075.72,858.48 1071.53,859.29 1071.00,854.24 1080.78,850.80 1081.50,851.17 1081.50,882.40" fill="#19365f"/>
<polygon points="1086.00,898.50 1093.20,898.50 1106.60,856.00 1099.90,856.00" fill="#19365f"/>
</svg>
</body></html>
